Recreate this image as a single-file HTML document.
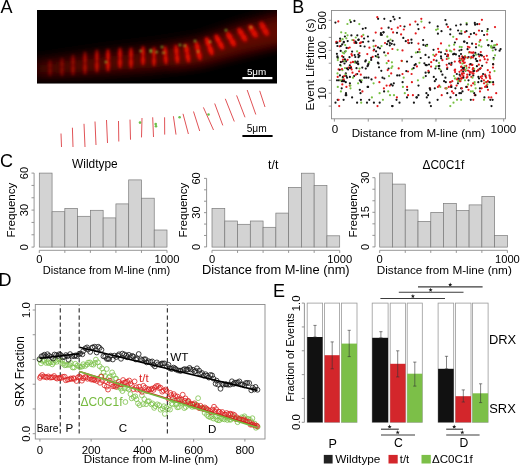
<!DOCTYPE html>
<html><head><meta charset="utf-8"><style>
html,body{margin:0;padding:0;background:#fff;width:520px;height:466px;overflow:hidden}
svg{display:block;font-family:"Liberation Sans", sans-serif;will-change:transform}
</style></head><body>
<svg width="520" height="466" viewBox="0 0 520 466">
<text x="0.60" y="12.70" font-size="18" text-anchor="start" fill="#000">A</text>
<text x="292.30" y="12.60" font-size="18" text-anchor="start" fill="#000">B</text>
<text x="0.00" y="166.50" font-size="18" text-anchor="start" fill="#000">C</text>
<text x="-1.40" y="286.20" font-size="18" text-anchor="start" fill="#000">D</text>
<text x="273.00" y="297.10" font-size="18" text-anchor="start" fill="#000">E</text>
<defs><filter id="bl2" x="-50%" y="-50%" width="200%" height="200%"><feGaussianBlur stdDeviation="2"/></filter><filter id="bl1" x="-50%" y="-50%" width="200%" height="200%"><feGaussianBlur stdDeviation="1.2"/></filter><filter id="bl15" filterUnits="userSpaceOnUse" x="30" y="0" width="260" height="90"><feGaussianBlur stdDeviation="1.7"/></filter><filter id="bl09" filterUnits="userSpaceOnUse" x="30" y="0" width="260" height="90"><feGaussianBlur stdDeviation="0.8"/></filter><filter id="bl3" filterUnits="userSpaceOnUse" x="30" y="0" width="260" height="90"><feGaussianBlur stdDeviation="3"/></filter><filter id="bl05" filterUnits="userSpaceOnUse" x="30" y="0" width="260" height="90"><feGaussianBlur stdDeviation="0.6"/></filter><filter id="bl6" filterUnits="userSpaceOnUse" x="0" y="0" width="300" height="100"><feGaussianBlur stdDeviation="6"/></filter><clipPath id="clipA"><rect x="37" y="10" width="240" height="73.5"/></clipPath></defs>
<rect x="37.00" y="10.00" width="240.00" height="73.50" fill="#000" stroke="none" stroke-width="1"/>
<g clip-path="url(#clipA)">
<path d="M20,62 L100,50 L150,44 L200,36 L240,22 L290,8 L290,44 L240,56 L200,66 L150,72 L100,76 L20,79 Z" fill="#2a0401" filter="url(#bl6)"/>
<path d="M40,64 L150,52 L200,45 L240,32 L290,18 L290,40 L240,50 L200,62 L150,68 L40,74 Z" fill="#6a0903" opacity="0.7" filter="url(#bl6)"/>
<path d="M170,48 L200,40 L240,26 L290,12 L290,42 L240,54 L200,64 L170,68 Z" fill="#700a04" opacity="0.45" filter="url(#bl6)"/>
<line x1="50" y1="61" x2="50" y2="75" stroke="#ee0800" stroke-width="3.00" stroke-linecap="round" opacity="0.27" filter="url(#bl15)"/>
<ellipse cx="50.0" cy="64.8" rx="1.80" ry="2.5" fill="#ff0a00" opacity="0.14" transform="rotate(-0.0 50.0 64.8)" filter="url(#bl15)"/>
<ellipse cx="50.0" cy="71.5" rx="1.80" ry="2.5" fill="#ff0a00" opacity="0.14" transform="rotate(-0.0 50.0 71.5)" filter="url(#bl15)"/>
<line x1="62" y1="59" x2="62" y2="75" stroke="#ee0800" stroke-width="3.00" stroke-linecap="round" opacity="0.32" filter="url(#bl15)"/>
<ellipse cx="62.0" cy="63.3" rx="1.80" ry="2.9" fill="#ff0a00" opacity="0.16" transform="rotate(-0.0 62.0 63.3)" filter="url(#bl15)"/>
<ellipse cx="62.0" cy="71.0" rx="1.80" ry="2.9" fill="#ff0a00" opacity="0.16" transform="rotate(-0.0 62.0 71.0)" filter="url(#bl15)"/>
<line x1="73" y1="56" x2="73" y2="74" stroke="#ee0800" stroke-width="3.00" stroke-linecap="round" opacity="0.41" filter="url(#bl15)"/>
<ellipse cx="73.0" cy="60.9" rx="1.80" ry="3.2" fill="#ff0a00" opacity="0.20" transform="rotate(-0.0 73.0 60.9)" filter="url(#bl15)"/>
<ellipse cx="73.0" cy="69.5" rx="1.80" ry="3.2" fill="#ff0a00" opacity="0.20" transform="rotate(-0.0 73.0 69.5)" filter="url(#bl15)"/>
<line x1="85" y1="53" x2="85" y2="73" stroke="#ee0800" stroke-width="3.00" stroke-linecap="round" opacity="0.50" filter="url(#bl15)"/>
<ellipse cx="85.0" cy="58.4" rx="1.80" ry="3.6" fill="#ff0a00" opacity="0.25" transform="rotate(-0.0 85.0 58.4)" filter="url(#bl15)"/>
<ellipse cx="85.0" cy="68.0" rx="1.80" ry="3.6" fill="#ff0a00" opacity="0.25" transform="rotate(-0.0 85.0 68.0)" filter="url(#bl15)"/>
<line x1="96.9" y1="51" x2="96.9" y2="71" stroke="#ee0800" stroke-width="3.00" stroke-linecap="round" opacity="0.63" filter="url(#bl15)"/>
<ellipse cx="96.9" cy="56.4" rx="1.80" ry="3.6" fill="#ff0a00" opacity="0.32" transform="rotate(-0.0 96.9 56.4)" filter="url(#bl15)"/>
<ellipse cx="96.9" cy="66.0" rx="1.80" ry="3.6" fill="#ff0a00" opacity="0.32" transform="rotate(-0.0 96.9 66.0)" filter="url(#bl15)"/>
<line x1="108" y1="50.5" x2="108" y2="70" stroke="#ee0800" stroke-width="3.00" stroke-linecap="round" opacity="0.81" filter="url(#bl15)"/>
<ellipse cx="108.0" cy="55.8" rx="1.80" ry="3.5" fill="#ff0a00" opacity="0.41" transform="rotate(-0.0 108.0 55.8)" filter="url(#bl15)"/>
<ellipse cx="108.0" cy="65.1" rx="1.80" ry="3.5" fill="#ff0a00" opacity="0.41" transform="rotate(-0.0 108.0 65.1)" filter="url(#bl15)"/>
<line x1="120" y1="49" x2="120" y2="67" stroke="#ee0800" stroke-width="3.00" stroke-linecap="round" opacity="0.77" filter="url(#bl15)"/>
<ellipse cx="120.0" cy="53.9" rx="1.80" ry="3.2" fill="#ff0a00" opacity="0.38" transform="rotate(-0.0 120.0 53.9)" filter="url(#bl15)"/>
<ellipse cx="120.0" cy="62.5" rx="1.80" ry="3.2" fill="#ff0a00" opacity="0.38" transform="rotate(-0.0 120.0 62.5)" filter="url(#bl15)"/>
<line x1="131" y1="49" x2="131" y2="67" stroke="#ee0800" stroke-width="3.00" stroke-linecap="round" opacity="0.77" filter="url(#bl15)"/>
<ellipse cx="131.0" cy="53.9" rx="1.80" ry="3.2" fill="#ff0a00" opacity="0.38" transform="rotate(-0.0 131.0 53.9)" filter="url(#bl15)"/>
<ellipse cx="131.0" cy="62.5" rx="1.80" ry="3.2" fill="#ff0a00" opacity="0.38" transform="rotate(-0.0 131.0 62.5)" filter="url(#bl15)"/>
<line x1="143" y1="47.5" x2="143" y2="64" stroke="#ee0800" stroke-width="3.00" stroke-linecap="round" opacity="0.81" filter="url(#bl15)"/>
<ellipse cx="143.0" cy="52.0" rx="1.80" ry="3.0" fill="#ff0a00" opacity="0.41" transform="rotate(-0.0 143.0 52.0)" filter="url(#bl15)"/>
<ellipse cx="143.0" cy="59.9" rx="1.80" ry="3.0" fill="#ff0a00" opacity="0.41" transform="rotate(-0.0 143.0 59.9)" filter="url(#bl15)"/>
<line x1="154" y1="48.5" x2="154" y2="65" stroke="#ee0800" stroke-width="3.00" stroke-linecap="round" opacity="0.77" filter="url(#bl15)"/>
<ellipse cx="154.0" cy="53.0" rx="1.80" ry="3.0" fill="#ff0a00" opacity="0.38" transform="rotate(-0.0 154.0 53.0)" filter="url(#bl15)"/>
<ellipse cx="154.0" cy="60.9" rx="1.80" ry="3.0" fill="#ff0a00" opacity="0.38" transform="rotate(-0.0 154.0 60.9)" filter="url(#bl15)"/>
<line x1="165" y1="47.5" x2="166" y2="63" stroke="#ee0800" stroke-width="3.22" stroke-linecap="round" opacity="0.81" filter="url(#bl15)"/>
<ellipse cx="165.3" cy="51.7" rx="1.93" ry="2.8" fill="#ff0a00" opacity="0.41" transform="rotate(-3.7 165.3 51.7)" filter="url(#bl15)"/>
<ellipse cx="165.8" cy="59.1" rx="1.93" ry="2.8" fill="#ff0a00" opacity="0.41" transform="rotate(-3.7 165.8 59.1)" filter="url(#bl15)"/>
<line x1="176" y1="46.5" x2="177.5" y2="62" stroke="#ee0800" stroke-width="3.44" stroke-linecap="round" opacity="0.81" filter="url(#bl15)"/>
<ellipse cx="176.4" cy="50.7" rx="2.06" ry="2.8" fill="#ff0a00" opacity="0.41" transform="rotate(-5.5 176.4 50.7)" filter="url(#bl15)"/>
<ellipse cx="177.1" cy="58.1" rx="2.06" ry="2.8" fill="#ff0a00" opacity="0.41" transform="rotate(-5.5 177.1 58.1)" filter="url(#bl15)"/>
<line x1="186" y1="45.5" x2="188.5" y2="61" stroke="#ee0800" stroke-width="3.66" stroke-linecap="round" opacity="0.85" filter="url(#bl15)"/>
<ellipse cx="186.7" cy="49.7" rx="2.20" ry="2.8" fill="#ff0a00" opacity="0.43" transform="rotate(-9.2 186.7 49.7)" filter="url(#bl15)"/>
<ellipse cx="187.9" cy="57.1" rx="2.20" ry="2.8" fill="#ff0a00" opacity="0.43" transform="rotate(-9.2 187.9 57.1)" filter="url(#bl15)"/>
<line x1="196.5" y1="43.5" x2="200" y2="58.5" stroke="#ee0800" stroke-width="3.88" stroke-linecap="round" opacity="0.85" filter="url(#bl15)"/>
<ellipse cx="197.4" cy="47.5" rx="2.33" ry="2.8" fill="#ff0a00" opacity="0.43" transform="rotate(-13.1 197.4 47.5)" filter="url(#bl15)"/>
<ellipse cx="199.1" cy="54.8" rx="2.33" ry="2.8" fill="#ff0a00" opacity="0.43" transform="rotate(-13.1 199.1 54.8)" filter="url(#bl15)"/>
<line x1="206.7" y1="39" x2="211.9" y2="53.5" stroke="#ee0800" stroke-width="4.10" stroke-linecap="round" opacity="0.90" filter="url(#bl15)"/>
<ellipse cx="208.1" cy="42.9" rx="2.46" ry="2.8" fill="#ff0a00" opacity="0.45" transform="rotate(-19.7 208.1 42.9)" filter="url(#bl15)"/>
<ellipse cx="210.6" cy="49.9" rx="2.46" ry="2.8" fill="#ff0a00" opacity="0.45" transform="rotate(-19.7 210.6 49.9)" filter="url(#bl15)"/>
<line x1="216.3" y1="36.5" x2="222.2" y2="47.5" stroke="#ee0800" stroke-width="4.32" stroke-linecap="round" opacity="0.90" filter="url(#bl15)"/>
<ellipse cx="217.9" cy="39.5" rx="2.59" ry="2.2" fill="#ff0a00" opacity="0.45" transform="rotate(-28.2 217.9 39.5)" filter="url(#bl15)"/>
<ellipse cx="220.7" cy="44.8" rx="2.59" ry="2.2" fill="#ff0a00" opacity="0.45" transform="rotate(-28.2 220.7 44.8)" filter="url(#bl15)"/>
<line x1="228" y1="34" x2="234" y2="44.5" stroke="#ee0800" stroke-width="4.54" stroke-linecap="round" opacity="0.85" filter="url(#bl15)"/>
<ellipse cx="229.6" cy="36.8" rx="2.72" ry="2.2" fill="#ff0a00" opacity="0.43" transform="rotate(-29.7 229.6 36.8)" filter="url(#bl15)"/>
<ellipse cx="232.5" cy="41.9" rx="2.72" ry="2.2" fill="#ff0a00" opacity="0.43" transform="rotate(-29.7 232.5 41.9)" filter="url(#bl15)"/>
<line x1="239.3" y1="30" x2="245.2" y2="39.5" stroke="#ee0800" stroke-width="4.76" stroke-linecap="round" opacity="0.81" filter="url(#bl15)"/>
<ellipse cx="240.9" cy="32.6" rx="2.86" ry="2.0" fill="#ff0a00" opacity="0.41" transform="rotate(-31.8 240.9 32.6)" filter="url(#bl15)"/>
<ellipse cx="243.7" cy="37.1" rx="2.86" ry="2.0" fill="#ff0a00" opacity="0.41" transform="rotate(-31.8 243.7 37.1)" filter="url(#bl15)"/>
<line x1="250.4" y1="27" x2="255.6" y2="35.5" stroke="#ee0800" stroke-width="4.98" stroke-linecap="round" opacity="0.81" filter="url(#bl15)"/>
<ellipse cx="251.8" cy="29.3" rx="2.99" ry="1.8" fill="#ff0a00" opacity="0.41" transform="rotate(-31.5 251.8 29.3)" filter="url(#bl15)"/>
<ellipse cx="254.3" cy="33.4" rx="2.99" ry="1.8" fill="#ff0a00" opacity="0.41" transform="rotate(-31.5 254.3 33.4)" filter="url(#bl15)"/>
<line x1="261.5" y1="24" x2="266.7" y2="33.5" stroke="#ee0800" stroke-width="5.20" stroke-linecap="round" opacity="0.77" filter="url(#bl15)"/>
<ellipse cx="262.9" cy="26.6" rx="3.12" ry="1.9" fill="#ff0a00" opacity="0.38" transform="rotate(-28.7 262.9 26.6)" filter="url(#bl15)"/>
<ellipse cx="265.4" cy="31.1" rx="3.12" ry="1.9" fill="#ff0a00" opacity="0.38" transform="rotate(-28.7 265.4 31.1)" filter="url(#bl15)"/>
<circle cx="140.8" cy="51" r="1.3" fill="#90f040" opacity="0.65" filter="url(#bl09)"/>
<circle cx="151" cy="51.5" r="1.3" fill="#90f040" opacity="0.65" filter="url(#bl09)"/>
<circle cx="106" cy="62" r="1.3" fill="#90f040" opacity="0.65" filter="url(#bl09)"/>
<circle cx="162" cy="47" r="1.3" fill="#90f040" opacity="0.65" filter="url(#bl09)"/>
<circle cx="163.5" cy="52.7" r="1.3" fill="#90f040" opacity="0.65" filter="url(#bl09)"/>
<circle cx="195" cy="41" r="1.3" fill="#90f040" opacity="0.65" filter="url(#bl09)"/>
<circle cx="198" cy="51.5" r="1.3" fill="#90f040" opacity="0.65" filter="url(#bl09)"/>
<circle cx="210" cy="41.8" r="1.3" fill="#90f040" opacity="0.65" filter="url(#bl09)"/>
<circle cx="226" cy="30.3" r="1.3" fill="#90f040" opacity="0.65" filter="url(#bl09)"/>
<circle cx="251" cy="27.3" r="1.3" fill="#90f040" opacity="0.65" filter="url(#bl09)"/>
<circle cx="184.7" cy="45.8" r="1.3" fill="#90f040" opacity="0.65" filter="url(#bl09)"/>
<circle cx="180" cy="45" r="1.3" fill="#90f040" opacity="0.65" filter="url(#bl09)"/>
<circle cx="156.5" cy="52" r="1.3" fill="#90f040" opacity="0.65" filter="url(#bl09)"/>
<circle cx="150.8" cy="50.4" r="1.3" fill="#90f040" opacity="0.65" filter="url(#bl09)"/>
</g>
<text x="256.60" y="74.90" font-size="9.9" text-anchor="middle" fill="#fff">5μm</text>
<rect x="242.40" y="77.00" width="30.00" height="2.20" fill="#fff" stroke="none" stroke-width="1"/>
<line x1="61.00" y1="133.50" x2="61.50" y2="147.00" stroke="#e05256" stroke-width="1"/>
<line x1="72.40" y1="127.70" x2="73.00" y2="147.00" stroke="#e05256" stroke-width="1"/>
<line x1="84.00" y1="123.80" x2="85.00" y2="147.00" stroke="#e05256" stroke-width="1"/>
<line x1="95.00" y1="121.50" x2="96.00" y2="145.00" stroke="#e05256" stroke-width="1"/>
<line x1="106.50" y1="120.00" x2="107.50" y2="143.00" stroke="#e05256" stroke-width="1"/>
<line x1="118.50" y1="121.00" x2="118.80" y2="141.50" stroke="#e05256" stroke-width="1"/>
<line x1="130.00" y1="119.60" x2="130.50" y2="139.70" stroke="#e05256" stroke-width="1"/>
<line x1="142.00" y1="118.00" x2="141.50" y2="137.40" stroke="#e05256" stroke-width="1"/>
<line x1="152.70" y1="117.30" x2="153.50" y2="137.00" stroke="#e05256" stroke-width="1"/>
<line x1="164.60" y1="117.30" x2="164.70" y2="134.60" stroke="#e05256" stroke-width="1"/>
<line x1="173.40" y1="116.20" x2="176.00" y2="134.60" stroke="#e05256" stroke-width="1"/>
<line x1="183.00" y1="113.80" x2="188.40" y2="134.00" stroke="#e05256" stroke-width="1"/>
<line x1="193.50" y1="111.50" x2="199.70" y2="131.00" stroke="#e05256" stroke-width="1"/>
<line x1="203.40" y1="107.40" x2="213.50" y2="130.00" stroke="#e05256" stroke-width="1"/>
<line x1="214.70" y1="103.50" x2="222.80" y2="125.40" stroke="#e05256" stroke-width="1"/>
<line x1="225.30" y1="98.80" x2="234.30" y2="121.50" stroke="#e05256" stroke-width="1"/>
<line x1="236.60" y1="95.40" x2="245.00" y2="117.30" stroke="#e05256" stroke-width="1"/>
<line x1="247.20" y1="90.00" x2="255.80" y2="114.50" stroke="#e05256" stroke-width="1"/>
<line x1="259.70" y1="90.80" x2="265.00" y2="107.00" stroke="#e05256" stroke-width="1"/>
<circle cx="140" cy="122.6" r="1.3" fill="#6cc04a"/>
<circle cx="155.7" cy="124" r="1.3" fill="#6cc04a"/>
<circle cx="156" cy="126.3" r="1.3" fill="#6cc04a"/>
<circle cx="179.6" cy="117.3" r="1.3" fill="#6cc04a"/>
<circle cx="208.5" cy="114.5" r="1.3" fill="#6cc04a"/>
<text x="256.70" y="132.30" font-size="10.2" text-anchor="middle" fill="#000">5μm</text>
<rect x="242.40" y="135.00" width="30.20" height="2.00" fill="#000" stroke="none" stroke-width="1"/>
<rect x="331.50" y="10.50" width="174.00" height="108.30" fill="none" stroke="#8a8a8a" stroke-width="0.9"/>
<line x1="334.40" y1="118.80" x2="334.40" y2="121.60" stroke="#8a8a8a" stroke-width="0.9"/>
<line x1="368.26" y1="118.80" x2="368.26" y2="121.60" stroke="#8a8a8a" stroke-width="0.9"/>
<line x1="402.12" y1="118.80" x2="402.12" y2="121.60" stroke="#8a8a8a" stroke-width="0.9"/>
<line x1="435.98" y1="118.80" x2="435.98" y2="121.60" stroke="#8a8a8a" stroke-width="0.9"/>
<line x1="469.84" y1="118.80" x2="469.84" y2="121.60" stroke="#8a8a8a" stroke-width="0.9"/>
<line x1="503.70" y1="118.80" x2="503.70" y2="121.60" stroke="#8a8a8a" stroke-width="0.9"/>
<line x1="328.70" y1="106.11" x2="331.50" y2="106.11" stroke="#8a8a8a" stroke-width="0.9"/>
<line x1="328.70" y1="93.20" x2="331.50" y2="93.20" stroke="#8a8a8a" stroke-width="0.9"/>
<line x1="328.70" y1="80.29" x2="331.50" y2="80.29" stroke="#8a8a8a" stroke-width="0.9"/>
<line x1="328.70" y1="63.21" x2="331.50" y2="63.21" stroke="#8a8a8a" stroke-width="0.9"/>
<line x1="328.70" y1="50.30" x2="331.50" y2="50.30" stroke="#8a8a8a" stroke-width="0.9"/>
<line x1="328.70" y1="37.39" x2="331.50" y2="37.39" stroke="#8a8a8a" stroke-width="0.9"/>
<line x1="328.70" y1="20.31" x2="331.50" y2="20.31" stroke="#8a8a8a" stroke-width="0.9"/>
<text x="326.20" y="93.20" font-size="11.2" text-anchor="middle" fill="#000" transform="rotate(-90 326.2 93.2)">10</text>
<text x="326.20" y="50.30" font-size="11.2" text-anchor="middle" fill="#000" transform="rotate(-90 326.2 50.300000000000004)">100</text>
<text x="326.20" y="20.31" font-size="11.2" text-anchor="middle" fill="#000" transform="rotate(-90 326.2 20.314186813984804)">500</text>
<text x="335.00" y="132.60" font-size="11.6" text-anchor="middle" fill="#000">0</text>
<text x="503.40" y="132.60" font-size="11.6" text-anchor="middle" fill="#000">1000</text>
<text x="418.40" y="137.20" font-size="11.6" text-anchor="middle" fill="#000">Distance from M-line (nm)</text>
<text x="314.00" y="64.50" font-size="11.8" text-anchor="middle" fill="#000" transform="rotate(-90 314.0 64.5)">Event Lifetime (s)</text>
<circle cx="469.5" cy="47.3" r="1.1" fill="#e3191c"/>
<circle cx="491.0" cy="46.7" r="1.1" fill="#78c043"/>
<circle cx="476.9" cy="66.2" r="1.1" fill="#151515"/>
<circle cx="490.3" cy="99.8" r="1.1" fill="#151515"/>
<circle cx="349.5" cy="57.2" r="1.1" fill="#151515"/>
<circle cx="371.9" cy="97.4" r="1.1" fill="#78c043"/>
<circle cx="449.9" cy="50.6" r="1.1" fill="#78c043"/>
<circle cx="411.6" cy="74.0" r="1.1" fill="#e3191c"/>
<circle cx="460.3" cy="62.7" r="1.1" fill="#e3191c"/>
<circle cx="342.4" cy="70.2" r="1.1" fill="#78c043"/>
<circle cx="397.2" cy="75.4" r="1.1" fill="#151515"/>
<circle cx="485.6" cy="82.2" r="1.1" fill="#78c043"/>
<circle cx="469.4" cy="71.3" r="1.1" fill="#e3191c"/>
<circle cx="347.6" cy="59.8" r="1.1" fill="#e3191c"/>
<circle cx="453.4" cy="93.2" r="1.1" fill="#e3191c"/>
<circle cx="464.5" cy="41.7" r="1.1" fill="#151515"/>
<circle cx="391.6" cy="29.1" r="1.1" fill="#e3191c"/>
<circle cx="456.6" cy="85.6" r="1.1" fill="#e3191c"/>
<circle cx="338.9" cy="80.3" r="1.1" fill="#151515"/>
<circle cx="378.1" cy="18.8" r="1.1" fill="#151515"/>
<circle cx="367.0" cy="102.7" r="1.1" fill="#151515"/>
<circle cx="465.6" cy="70.6" r="1.1" fill="#151515"/>
<circle cx="338.6" cy="69.4" r="1.1" fill="#e3191c"/>
<circle cx="337.5" cy="73.4" r="1.1" fill="#78c043"/>
<circle cx="466.6" cy="23.1" r="1.1" fill="#78c043"/>
<circle cx="462.2" cy="56.4" r="1.1" fill="#e3191c"/>
<circle cx="363.3" cy="34.9" r="1.1" fill="#78c043"/>
<circle cx="441.7" cy="95.2" r="1.1" fill="#e3191c"/>
<circle cx="458.1" cy="30.5" r="1.1" fill="#151515"/>
<circle cx="475.3" cy="52.9" r="1.1" fill="#151515"/>
<circle cx="461.1" cy="88.3" r="1.1" fill="#151515"/>
<circle cx="342.7" cy="77.7" r="1.1" fill="#78c043"/>
<circle cx="342.2" cy="44.4" r="1.1" fill="#151515"/>
<circle cx="355.2" cy="61.5" r="1.1" fill="#151515"/>
<circle cx="379.0" cy="67.3" r="1.1" fill="#151515"/>
<circle cx="346.4" cy="86.9" r="1.1" fill="#e3191c"/>
<circle cx="469.2" cy="36.9" r="1.1" fill="#e3191c"/>
<circle cx="456.6" cy="39.2" r="1.1" fill="#e3191c"/>
<circle cx="447.3" cy="67.7" r="1.1" fill="#e3191c"/>
<circle cx="471.4" cy="76.9" r="1.1" fill="#e3191c"/>
<circle cx="344.9" cy="36.5" r="1.1" fill="#151515"/>
<circle cx="452.3" cy="81.2" r="1.1" fill="#e3191c"/>
<circle cx="454.1" cy="44.7" r="1.1" fill="#78c043"/>
<circle cx="489.4" cy="75.4" r="1.1" fill="#e3191c"/>
<circle cx="423.4" cy="44.9" r="1.1" fill="#151515"/>
<circle cx="492.8" cy="47.6" r="1.1" fill="#151515"/>
<circle cx="434.8" cy="88.3" r="1.1" fill="#151515"/>
<circle cx="339.6" cy="46.3" r="1.1" fill="#e3191c"/>
<circle cx="466.7" cy="77.7" r="1.1" fill="#e3191c"/>
<circle cx="445.8" cy="82.2" r="1.1" fill="#151515"/>
<circle cx="467.6" cy="49.2" r="1.1" fill="#151515"/>
<circle cx="493.1" cy="82.2" r="1.1" fill="#151515"/>
<circle cx="350.9" cy="66.8" r="1.1" fill="#e3191c"/>
<circle cx="469.7" cy="64.6" r="1.1" fill="#e3191c"/>
<circle cx="469.2" cy="67.6" r="1.1" fill="#e3191c"/>
<circle cx="479.5" cy="41.8" r="1.1" fill="#78c043"/>
<circle cx="454.8" cy="61.6" r="1.1" fill="#e3191c"/>
<circle cx="367.6" cy="86.9" r="1.1" fill="#151515"/>
<circle cx="349.9" cy="20.2" r="1.1" fill="#78c043"/>
<circle cx="439.0" cy="68.5" r="1.1" fill="#151515"/>
<circle cx="488.4" cy="45.2" r="1.1" fill="#151515"/>
<circle cx="389.8" cy="85.6" r="1.1" fill="#e3191c"/>
<circle cx="348.1" cy="69.5" r="1.1" fill="#151515"/>
<circle cx="438.1" cy="48.8" r="1.1" fill="#e3191c"/>
<circle cx="489.8" cy="76.9" r="1.1" fill="#e3191c"/>
<circle cx="427.1" cy="44.9" r="1.1" fill="#151515"/>
<circle cx="417.8" cy="52.1" r="1.1" fill="#151515"/>
<circle cx="483.1" cy="74.0" r="1.1" fill="#151515"/>
<circle cx="487.1" cy="86.9" r="1.1" fill="#151515"/>
<circle cx="471.0" cy="64.5" r="1.1" fill="#e3191c"/>
<circle cx="463.4" cy="76.1" r="1.1" fill="#e3191c"/>
<circle cx="377.5" cy="106.1" r="1.1" fill="#e3191c"/>
<circle cx="345.6" cy="33.0" r="1.1" fill="#78c043"/>
<circle cx="462.1" cy="77.7" r="1.1" fill="#e3191c"/>
<circle cx="474.1" cy="33.2" r="1.1" fill="#151515"/>
<circle cx="411.6" cy="42.8" r="1.1" fill="#151515"/>
<circle cx="462.9" cy="58.4" r="1.1" fill="#e3191c"/>
<circle cx="429.0" cy="64.5" r="1.1" fill="#151515"/>
<circle cx="383.5" cy="32.3" r="1.1" fill="#151515"/>
<circle cx="440.3" cy="86.9" r="1.1" fill="#78c043"/>
<circle cx="352.1" cy="51.6" r="1.1" fill="#151515"/>
<circle cx="473.3" cy="75.4" r="1.1" fill="#151515"/>
<circle cx="454.6" cy="70.3" r="1.1" fill="#e3191c"/>
<circle cx="364.1" cy="38.5" r="1.1" fill="#151515"/>
<circle cx="464.0" cy="67.9" r="1.1" fill="#151515"/>
<circle cx="362.4" cy="91.4" r="1.1" fill="#e3191c"/>
<circle cx="426.8" cy="97.4" r="1.1" fill="#151515"/>
<circle cx="336.9" cy="53.8" r="1.1" fill="#151515"/>
<circle cx="424.4" cy="63.3" r="1.1" fill="#151515"/>
<circle cx="345.0" cy="68.0" r="1.1" fill="#78c043"/>
<circle cx="362.8" cy="28.8" r="1.1" fill="#151515"/>
<circle cx="460.4" cy="81.2" r="1.1" fill="#e3191c"/>
<circle cx="360.8" cy="74.7" r="1.1" fill="#e3191c"/>
<circle cx="454.4" cy="53.8" r="1.1" fill="#151515"/>
<circle cx="368.4" cy="63.9" r="1.1" fill="#151515"/>
<circle cx="408.1" cy="95.2" r="1.1" fill="#e3191c"/>
<circle cx="476.0" cy="44.1" r="1.1" fill="#e3191c"/>
<circle cx="494.2" cy="47.5" r="1.1" fill="#151515"/>
<circle cx="388.6" cy="40.9" r="1.1" fill="#151515"/>
<circle cx="385.7" cy="55.5" r="1.1" fill="#78c043"/>
<circle cx="367.9" cy="36.5" r="1.1" fill="#151515"/>
<circle cx="356.1" cy="42.8" r="1.1" fill="#151515"/>
<circle cx="454.0" cy="53.9" r="1.1" fill="#151515"/>
<circle cx="481.9" cy="78.5" r="1.1" fill="#e3191c"/>
<circle cx="382.9" cy="99.8" r="1.1" fill="#78c043"/>
<circle cx="459.1" cy="80.3" r="1.1" fill="#151515"/>
<circle cx="470.8" cy="58.3" r="1.1" fill="#78c043"/>
<circle cx="428.7" cy="72.3" r="1.1" fill="#151515"/>
<circle cx="345.8" cy="82.2" r="1.1" fill="#151515"/>
<circle cx="491.5" cy="106.1" r="1.1" fill="#151515"/>
<circle cx="337.0" cy="80.3" r="1.1" fill="#151515"/>
<circle cx="366.2" cy="77.7" r="1.1" fill="#151515"/>
<circle cx="398.7" cy="68.4" r="1.1" fill="#e3191c"/>
<circle cx="402.9" cy="86.9" r="1.1" fill="#78c043"/>
<circle cx="451.3" cy="64.7" r="1.1" fill="#151515"/>
<circle cx="379.6" cy="93.2" r="1.1" fill="#78c043"/>
<circle cx="455.4" cy="88.3" r="1.1" fill="#151515"/>
<circle cx="457.7" cy="78.5" r="1.1" fill="#e3191c"/>
<circle cx="369.2" cy="62.2" r="1.1" fill="#78c043"/>
<circle cx="459.4" cy="93.2" r="1.1" fill="#151515"/>
<circle cx="493.2" cy="64.4" r="1.1" fill="#e3191c"/>
<circle cx="485.1" cy="86.9" r="1.1" fill="#e3191c"/>
<circle cx="478.2" cy="70.3" r="1.1" fill="#151515"/>
<circle cx="469.6" cy="74.7" r="1.1" fill="#151515"/>
<circle cx="347.4" cy="24.0" r="1.1" fill="#78c043"/>
<circle cx="358.2" cy="64.2" r="1.1" fill="#151515"/>
<circle cx="373.9" cy="102.7" r="1.1" fill="#151515"/>
<circle cx="421.4" cy="21.6" r="1.1" fill="#78c043"/>
<circle cx="356.5" cy="68.2" r="1.1" fill="#151515"/>
<circle cx="425.7" cy="45.7" r="1.1" fill="#151515"/>
<circle cx="368.4" cy="77.7" r="1.1" fill="#151515"/>
<circle cx="465.0" cy="32.1" r="1.1" fill="#e3191c"/>
<circle cx="493.6" cy="58.1" r="1.1" fill="#151515"/>
<circle cx="472.4" cy="73.4" r="1.1" fill="#e3191c"/>
<circle cx="341.0" cy="61.8" r="1.1" fill="#e3191c"/>
<circle cx="437.7" cy="26.4" r="1.1" fill="#151515"/>
<circle cx="353.2" cy="62.0" r="1.1" fill="#151515"/>
<circle cx="438.9" cy="51.9" r="1.1" fill="#e3191c"/>
<circle cx="391.2" cy="73.4" r="1.1" fill="#e3191c"/>
<circle cx="383.9" cy="88.3" r="1.1" fill="#e3191c"/>
<circle cx="466.5" cy="31.2" r="1.1" fill="#151515"/>
<circle cx="373.6" cy="46.3" r="1.1" fill="#78c043"/>
<circle cx="388.6" cy="27.7" r="1.1" fill="#151515"/>
<circle cx="467.5" cy="58.0" r="1.1" fill="#78c043"/>
<circle cx="491.3" cy="97.4" r="1.1" fill="#e3191c"/>
<circle cx="450.0" cy="50.8" r="1.1" fill="#78c043"/>
<circle cx="471.2" cy="52.7" r="1.1" fill="#e3191c"/>
<circle cx="403.3" cy="37.9" r="1.1" fill="#151515"/>
<circle cx="425.5" cy="54.9" r="1.1" fill="#151515"/>
<circle cx="365.3" cy="61.4" r="1.1" fill="#151515"/>
<circle cx="377.1" cy="56.8" r="1.1" fill="#78c043"/>
<circle cx="340.7" cy="50.9" r="1.1" fill="#151515"/>
<circle cx="474.6" cy="82.2" r="1.1" fill="#78c043"/>
<circle cx="415.7" cy="64.2" r="1.1" fill="#151515"/>
<circle cx="411.9" cy="82.2" r="1.1" fill="#e3191c"/>
<circle cx="433.5" cy="49.8" r="1.1" fill="#151515"/>
<circle cx="446.7" cy="64.8" r="1.1" fill="#e3191c"/>
<circle cx="344.1" cy="53.3" r="1.1" fill="#78c043"/>
<circle cx="461.7" cy="47.1" r="1.1" fill="#78c043"/>
<circle cx="480.6" cy="55.0" r="1.1" fill="#151515"/>
<circle cx="388.6" cy="68.6" r="1.1" fill="#151515"/>
<circle cx="461.4" cy="49.8" r="1.1" fill="#151515"/>
<circle cx="485.6" cy="76.1" r="1.1" fill="#151515"/>
<circle cx="372.7" cy="56.8" r="1.1" fill="#e3191c"/>
<circle cx="461.3" cy="31.1" r="1.1" fill="#78c043"/>
<circle cx="487.2" cy="31.2" r="1.1" fill="#78c043"/>
<circle cx="416.9" cy="97.4" r="1.1" fill="#151515"/>
<circle cx="479.3" cy="56.3" r="1.1" fill="#e3191c"/>
<circle cx="392.7" cy="85.6" r="1.1" fill="#151515"/>
<circle cx="340.8" cy="65.7" r="1.1" fill="#78c043"/>
<circle cx="468.6" cy="57.1" r="1.1" fill="#151515"/>
<circle cx="340.8" cy="46.1" r="1.1" fill="#151515"/>
<circle cx="343.6" cy="99.8" r="1.1" fill="#151515"/>
<circle cx="487.7" cy="59.7" r="1.1" fill="#e3191c"/>
<circle cx="475.8" cy="58.9" r="1.1" fill="#151515"/>
<circle cx="412.1" cy="69.2" r="1.1" fill="#78c043"/>
<circle cx="340.9" cy="91.4" r="1.1" fill="#78c043"/>
<circle cx="493.7" cy="59.3" r="1.1" fill="#78c043"/>
<circle cx="459.2" cy="56.1" r="1.1" fill="#151515"/>
<circle cx="365.6" cy="28.1" r="1.1" fill="#151515"/>
<circle cx="488.3" cy="45.3" r="1.1" fill="#151515"/>
<circle cx="462.2" cy="74.7" r="1.1" fill="#e3191c"/>
<circle cx="464.4" cy="58.5" r="1.1" fill="#151515"/>
<circle cx="399.4" cy="75.4" r="1.1" fill="#151515"/>
<circle cx="392.6" cy="106.1" r="1.1" fill="#151515"/>
<circle cx="429.6" cy="22.6" r="1.1" fill="#151515"/>
<circle cx="397.6" cy="49.8" r="1.1" fill="#78c043"/>
<circle cx="411.4" cy="39.7" r="1.1" fill="#151515"/>
<circle cx="484.4" cy="97.4" r="1.1" fill="#151515"/>
<circle cx="476.6" cy="61.0" r="1.1" fill="#151515"/>
<circle cx="439.3" cy="65.9" r="1.1" fill="#151515"/>
<circle cx="344.9" cy="59.4" r="1.1" fill="#151515"/>
<circle cx="341.9" cy="81.2" r="1.1" fill="#151515"/>
<circle cx="423.4" cy="77.7" r="1.1" fill="#78c043"/>
<circle cx="467.1" cy="86.9" r="1.1" fill="#e3191c"/>
<circle cx="347.5" cy="35.3" r="1.1" fill="#78c043"/>
<circle cx="477.2" cy="24.2" r="1.1" fill="#151515"/>
<circle cx="373.5" cy="40.7" r="1.1" fill="#151515"/>
<circle cx="466.3" cy="65.9" r="1.1" fill="#e3191c"/>
<circle cx="450.5" cy="97.4" r="1.1" fill="#151515"/>
<circle cx="359.4" cy="53.0" r="1.1" fill="#e3191c"/>
<circle cx="342.3" cy="80.3" r="1.1" fill="#151515"/>
<circle cx="481.9" cy="19.8" r="1.1" fill="#e3191c"/>
<circle cx="455.1" cy="72.1" r="1.1" fill="#e3191c"/>
<circle cx="392.6" cy="40.8" r="1.1" fill="#151515"/>
<circle cx="446.4" cy="49.8" r="1.1" fill="#78c043"/>
<circle cx="455.1" cy="69.7" r="1.1" fill="#e3191c"/>
<circle cx="453.2" cy="36.8" r="1.1" fill="#78c043"/>
<circle cx="447.9" cy="26.9" r="1.1" fill="#e3191c"/>
<circle cx="472.5" cy="77.7" r="1.1" fill="#78c043"/>
<circle cx="495.0" cy="55.3" r="1.1" fill="#78c043"/>
<circle cx="387.7" cy="70.1" r="1.1" fill="#e3191c"/>
<circle cx="468.9" cy="52.6" r="1.1" fill="#78c043"/>
<circle cx="441.0" cy="56.4" r="1.1" fill="#151515"/>
<circle cx="472.1" cy="43.7" r="1.1" fill="#151515"/>
<circle cx="486.6" cy="62.5" r="1.1" fill="#e3191c"/>
<circle cx="478.4" cy="76.9" r="1.1" fill="#151515"/>
<circle cx="407.1" cy="86.9" r="1.1" fill="#e3191c"/>
<circle cx="360.7" cy="81.2" r="1.1" fill="#151515"/>
<circle cx="489.9" cy="72.4" r="1.1" fill="#e3191c"/>
<circle cx="463.4" cy="77.7" r="1.1" fill="#151515"/>
<circle cx="476.2" cy="34.5" r="1.1" fill="#e3191c"/>
<circle cx="468.5" cy="80.3" r="1.1" fill="#151515"/>
<circle cx="472.4" cy="64.8" r="1.1" fill="#e3191c"/>
<circle cx="441.0" cy="43.4" r="1.1" fill="#e3191c"/>
<circle cx="385.0" cy="43.0" r="1.1" fill="#e3191c"/>
<circle cx="451.0" cy="86.9" r="1.1" fill="#e3191c"/>
<circle cx="393.8" cy="83.3" r="1.1" fill="#151515"/>
<circle cx="349.9" cy="83.3" r="1.1" fill="#151515"/>
<circle cx="492.6" cy="99.8" r="1.1" fill="#151515"/>
<circle cx="493.3" cy="84.4" r="1.1" fill="#e3191c"/>
<circle cx="484.1" cy="35.0" r="1.1" fill="#151515"/>
<circle cx="450.4" cy="82.2" r="1.1" fill="#151515"/>
<circle cx="352.3" cy="40.0" r="1.1" fill="#78c043"/>
<circle cx="465.8" cy="70.4" r="1.1" fill="#78c043"/>
<circle cx="349.8" cy="85.6" r="1.1" fill="#e3191c"/>
<circle cx="387.3" cy="36.7" r="1.1" fill="#78c043"/>
<circle cx="436.1" cy="66.4" r="1.1" fill="#78c043"/>
<circle cx="343.0" cy="59.7" r="1.1" fill="#e3191c"/>
<circle cx="473.4" cy="52.4" r="1.1" fill="#e3191c"/>
<circle cx="491.9" cy="41.2" r="1.1" fill="#151515"/>
<circle cx="470.9" cy="91.4" r="1.1" fill="#78c043"/>
<circle cx="460.5" cy="80.3" r="1.1" fill="#78c043"/>
<circle cx="361.2" cy="102.7" r="1.1" fill="#78c043"/>
<circle cx="337.7" cy="99.8" r="1.1" fill="#151515"/>
<circle cx="482.0" cy="31.0" r="1.1" fill="#151515"/>
<circle cx="361.7" cy="80.3" r="1.1" fill="#78c043"/>
<circle cx="403.8" cy="29.5" r="1.1" fill="#e3191c"/>
<circle cx="467.9" cy="46.8" r="1.1" fill="#e3191c"/>
<circle cx="490.2" cy="78.5" r="1.1" fill="#e3191c"/>
<circle cx="451.0" cy="85.6" r="1.1" fill="#e3191c"/>
<circle cx="408.9" cy="43.1" r="1.1" fill="#151515"/>
<circle cx="461.5" cy="70.5" r="1.1" fill="#e3191c"/>
<circle cx="357.1" cy="102.7" r="1.1" fill="#151515"/>
<circle cx="500.6" cy="49.1" r="1.1" fill="#151515"/>
<circle cx="386.6" cy="85.6" r="1.1" fill="#e3191c"/>
<circle cx="418.5" cy="85.6" r="1.1" fill="#151515"/>
<circle cx="472.0" cy="64.9" r="1.1" fill="#e3191c"/>
<circle cx="431.1" cy="66.6" r="1.1" fill="#e3191c"/>
<circle cx="499.6" cy="50.7" r="1.1" fill="#151515"/>
<circle cx="493.1" cy="64.2" r="1.1" fill="#151515"/>
<circle cx="344.9" cy="59.8" r="1.1" fill="#151515"/>
<circle cx="447.1" cy="69.0" r="1.1" fill="#151515"/>
<circle cx="345.2" cy="45.1" r="1.1" fill="#78c043"/>
<circle cx="461.1" cy="66.8" r="1.1" fill="#e3191c"/>
<circle cx="447.1" cy="56.3" r="1.1" fill="#151515"/>
<circle cx="342.1" cy="56.2" r="1.1" fill="#e3191c"/>
<circle cx="486.6" cy="82.2" r="1.1" fill="#e3191c"/>
<circle cx="371.2" cy="59.9" r="1.1" fill="#151515"/>
<circle cx="355.8" cy="37.5" r="1.1" fill="#78c043"/>
<circle cx="355.3" cy="57.0" r="1.1" fill="#151515"/>
<circle cx="418.4" cy="95.2" r="1.1" fill="#151515"/>
<circle cx="350.4" cy="85.6" r="1.1" fill="#78c043"/>
<circle cx="402.5" cy="50.4" r="1.1" fill="#e3191c"/>
<circle cx="365.8" cy="60.4" r="1.1" fill="#151515"/>
<circle cx="350.8" cy="62.6" r="1.1" fill="#e3191c"/>
<circle cx="450.8" cy="64.6" r="1.1" fill="#e3191c"/>
<circle cx="480.1" cy="60.4" r="1.1" fill="#e3191c"/>
<circle cx="378.0" cy="47.4" r="1.1" fill="#151515"/>
<circle cx="351.5" cy="54.2" r="1.1" fill="#e3191c"/>
<circle cx="454.0" cy="76.1" r="1.1" fill="#78c043"/>
<circle cx="472.8" cy="52.8" r="1.1" fill="#e3191c"/>
<circle cx="354.6" cy="62.4" r="1.1" fill="#78c043"/>
<circle cx="360.5" cy="93.2" r="1.1" fill="#151515"/>
<circle cx="412.9" cy="95.2" r="1.1" fill="#e3191c"/>
<circle cx="343.0" cy="81.2" r="1.1" fill="#151515"/>
<circle cx="448.1" cy="55.1" r="1.1" fill="#151515"/>
<circle cx="345.8" cy="73.4" r="1.1" fill="#151515"/>
<circle cx="461.6" cy="78.5" r="1.1" fill="#e3191c"/>
<circle cx="484.0" cy="99.8" r="1.1" fill="#78c043"/>
<circle cx="495.0" cy="27.1" r="1.1" fill="#e3191c"/>
<circle cx="479.0" cy="45.4" r="1.1" fill="#78c043"/>
<circle cx="451.3" cy="85.6" r="1.1" fill="#e3191c"/>
<circle cx="441.1" cy="71.4" r="1.1" fill="#151515"/>
<circle cx="446.6" cy="24.4" r="1.1" fill="#151515"/>
<circle cx="386.7" cy="63.2" r="1.1" fill="#78c043"/>
<circle cx="480.8" cy="76.9" r="1.1" fill="#e3191c"/>
<circle cx="470.6" cy="64.0" r="1.1" fill="#151515"/>
<circle cx="417.7" cy="24.5" r="1.1" fill="#151515"/>
<circle cx="413.9" cy="102.7" r="1.1" fill="#151515"/>
<circle cx="339.8" cy="69.8" r="1.1" fill="#151515"/>
<circle cx="460.3" cy="76.1" r="1.1" fill="#e3191c"/>
<circle cx="449.2" cy="45.7" r="1.1" fill="#78c043"/>
<circle cx="342.3" cy="84.4" r="1.1" fill="#e3191c"/>
<circle cx="478.8" cy="64.7" r="1.1" fill="#e3191c"/>
<circle cx="352.5" cy="72.7" r="1.1" fill="#e3191c"/>
<circle cx="381.3" cy="70.8" r="1.1" fill="#151515"/>
<circle cx="356.4" cy="62.8" r="1.1" fill="#151515"/>
<circle cx="430.1" cy="88.3" r="1.1" fill="#e3191c"/>
<circle cx="438.5" cy="66.1" r="1.1" fill="#151515"/>
<circle cx="459.8" cy="46.9" r="1.1" fill="#78c043"/>
<circle cx="459.6" cy="74.7" r="1.1" fill="#151515"/>
<circle cx="351.1" cy="68.0" r="1.1" fill="#151515"/>
<circle cx="468.0" cy="70.5" r="1.1" fill="#e3191c"/>
<circle cx="404.8" cy="93.2" r="1.1" fill="#78c043"/>
<circle cx="481.4" cy="46.6" r="1.1" fill="#78c043"/>
<circle cx="416.9" cy="66.4" r="1.1" fill="#e3191c"/>
<circle cx="433.3" cy="54.8" r="1.1" fill="#78c043"/>
<circle cx="378.0" cy="54.6" r="1.1" fill="#151515"/>
<circle cx="473.6" cy="55.7" r="1.1" fill="#151515"/>
<circle cx="360.5" cy="46.0" r="1.1" fill="#151515"/>
<circle cx="471.5" cy="56.8" r="1.1" fill="#e3191c"/>
<circle cx="458.8" cy="78.5" r="1.1" fill="#151515"/>
<circle cx="488.0" cy="89.8" r="1.1" fill="#e3191c"/>
<circle cx="367.3" cy="54.1" r="1.1" fill="#e3191c"/>
<circle cx="337.4" cy="46.0" r="1.1" fill="#151515"/>
<circle cx="415.7" cy="33.4" r="1.1" fill="#e3191c"/>
<circle cx="430.9" cy="106.1" r="1.1" fill="#151515"/>
<circle cx="453.5" cy="102.7" r="1.1" fill="#78c043"/>
<circle cx="419.3" cy="49.4" r="1.1" fill="#e3191c"/>
<circle cx="371.2" cy="57.9" r="1.1" fill="#151515"/>
<circle cx="491.5" cy="47.7" r="1.1" fill="#78c043"/>
<circle cx="404.5" cy="26.5" r="1.1" fill="#151515"/>
<circle cx="463.7" cy="63.1" r="1.1" fill="#e3191c"/>
<circle cx="354.1" cy="76.1" r="1.1" fill="#151515"/>
<circle cx="486.1" cy="77.7" r="1.1" fill="#e3191c"/>
<circle cx="405.8" cy="41.2" r="1.1" fill="#151515"/>
<circle cx="459.5" cy="71.8" r="1.1" fill="#e3191c"/>
<circle cx="343.8" cy="79.4" r="1.1" fill="#e3191c"/>
<circle cx="464.1" cy="69.7" r="1.1" fill="#e3191c"/>
<circle cx="384.1" cy="91.4" r="1.1" fill="#151515"/>
<circle cx="473.5" cy="73.4" r="1.1" fill="#e3191c"/>
<circle cx="437.9" cy="86.9" r="1.1" fill="#e3191c"/>
<circle cx="440.2" cy="69.6" r="1.1" fill="#78c043"/>
<circle cx="481.9" cy="55.6" r="1.1" fill="#151515"/>
<circle cx="336.4" cy="43.0" r="1.1" fill="#151515"/>
<circle cx="408.2" cy="42.7" r="1.1" fill="#e3191c"/>
<circle cx="445.4" cy="88.3" r="1.1" fill="#e3191c"/>
<circle cx="456.8" cy="74.0" r="1.1" fill="#151515"/>
<circle cx="454.2" cy="49.5" r="1.1" fill="#e3191c"/>
<circle cx="365.8" cy="68.6" r="1.1" fill="#151515"/>
<circle cx="377.3" cy="17.2" r="1.1" fill="#e3191c"/>
<circle cx="462.6" cy="60.9" r="1.1" fill="#e3191c"/>
<circle cx="402.5" cy="74.0" r="1.1" fill="#e3191c"/>
<circle cx="358.5" cy="57.2" r="1.1" fill="#151515"/>
<circle cx="453.1" cy="54.3" r="1.1" fill="#151515"/>
<circle cx="346.0" cy="93.2" r="1.1" fill="#151515"/>
<circle cx="487.9" cy="81.2" r="1.1" fill="#e3191c"/>
<circle cx="478.3" cy="82.2" r="1.1" fill="#151515"/>
<circle cx="337.4" cy="56.3" r="1.1" fill="#151515"/>
<circle cx="342.9" cy="61.5" r="1.1" fill="#151515"/>
<circle cx="342.6" cy="39.2" r="1.1" fill="#78c043"/>
<circle cx="394.3" cy="44.6" r="1.1" fill="#151515"/>
<circle cx="345.3" cy="51.5" r="1.1" fill="#151515"/>
<circle cx="413.6" cy="68.2" r="1.1" fill="#151515"/>
<circle cx="474.2" cy="93.2" r="1.1" fill="#151515"/>
<circle cx="354.6" cy="55.1" r="1.1" fill="#151515"/>
<circle cx="476.0" cy="54.7" r="1.1" fill="#78c043"/>
<circle cx="426.9" cy="45.8" r="1.1" fill="#78c043"/>
<circle cx="487.2" cy="34.4" r="1.1" fill="#e3191c"/>
<circle cx="474.2" cy="70.8" r="1.1" fill="#151515"/>
<circle cx="426.0" cy="65.2" r="1.1" fill="#151515"/>
<circle cx="446.7" cy="51.0" r="1.1" fill="#e3191c"/>
<circle cx="357.7" cy="61.6" r="1.1" fill="#151515"/>
<circle cx="459.8" cy="60.5" r="1.1" fill="#151515"/>
<circle cx="352.1" cy="97.4" r="1.1" fill="#151515"/>
<circle cx="388.2" cy="91.4" r="1.1" fill="#78c043"/>
<circle cx="391.9" cy="62.3" r="1.1" fill="#78c043"/>
<circle cx="462.6" cy="67.8" r="1.1" fill="#151515"/>
<circle cx="402.6" cy="82.2" r="1.1" fill="#151515"/>
<circle cx="378.6" cy="57.3" r="1.1" fill="#151515"/>
<circle cx="338.3" cy="21.4" r="1.1" fill="#e3191c"/>
<circle cx="338.1" cy="58.0" r="1.1" fill="#78c043"/>
<circle cx="345.5" cy="74.7" r="1.1" fill="#78c043"/>
<circle cx="357.2" cy="74.0" r="1.1" fill="#151515"/>
<circle cx="464.8" cy="62.6" r="1.1" fill="#e3191c"/>
<circle cx="353.7" cy="40.3" r="1.1" fill="#e3191c"/>
<circle cx="416.4" cy="97.4" r="1.1" fill="#151515"/>
<circle cx="389.8" cy="45.4" r="1.1" fill="#151515"/>
<circle cx="487.4" cy="84.4" r="1.1" fill="#78c043"/>
<circle cx="490.8" cy="82.2" r="1.1" fill="#78c043"/>
<circle cx="476.8" cy="71.2" r="1.1" fill="#e3191c"/>
<circle cx="336.3" cy="41.9" r="1.1" fill="#e3191c"/>
<circle cx="480.0" cy="68.8" r="1.1" fill="#151515"/>
<circle cx="486.5" cy="85.6" r="1.1" fill="#e3191c"/>
<circle cx="343.8" cy="41.8" r="1.1" fill="#151515"/>
<circle cx="465.2" cy="56.8" r="1.1" fill="#151515"/>
<circle cx="346.1" cy="61.4" r="1.1" fill="#151515"/>
<circle cx="354.4" cy="42.8" r="1.1" fill="#e3191c"/>
<circle cx="474.7" cy="84.4" r="1.1" fill="#78c043"/>
<circle cx="423.1" cy="40.1" r="1.1" fill="#151515"/>
<circle cx="442.4" cy="60.2" r="1.1" fill="#e3191c"/>
<circle cx="374.1" cy="49.5" r="1.1" fill="#151515"/>
<circle cx="381.5" cy="46.1" r="1.1" fill="#78c043"/>
<circle cx="384.3" cy="18.8" r="1.1" fill="#151515"/>
<circle cx="348.6" cy="67.7" r="1.1" fill="#e3191c"/>
<circle cx="482.1" cy="65.8" r="1.1" fill="#151515"/>
<circle cx="461.0" cy="54.0" r="1.1" fill="#151515"/>
<circle cx="430.2" cy="89.8" r="1.1" fill="#151515"/>
<circle cx="337.8" cy="60.1" r="1.1" fill="#78c043"/>
<circle cx="346.3" cy="38.3" r="1.1" fill="#78c043"/>
<circle cx="358.3" cy="54.7" r="1.1" fill="#151515"/>
<circle cx="451.4" cy="86.9" r="1.1" fill="#151515"/>
<circle cx="437.6" cy="99.8" r="1.1" fill="#151515"/>
<circle cx="428.8" cy="72.4" r="1.1" fill="#78c043"/>
<circle cx="483.9" cy="56.8" r="1.1" fill="#e3191c"/>
<circle cx="428.1" cy="95.2" r="1.1" fill="#151515"/>
<circle cx="470.8" cy="99.8" r="1.1" fill="#151515"/>
<circle cx="495.6" cy="49.6" r="1.1" fill="#151515"/>
<circle cx="475.1" cy="24.7" r="1.1" fill="#151515"/>
<circle cx="369.3" cy="99.8" r="1.1" fill="#151515"/>
<circle cx="461.0" cy="78.5" r="1.1" fill="#e3191c"/>
<circle cx="425.8" cy="76.1" r="1.1" fill="#151515"/>
<circle cx="473.1" cy="57.5" r="1.1" fill="#e3191c"/>
<circle cx="396.9" cy="97.4" r="1.1" fill="#e3191c"/>
<circle cx="480.8" cy="52.0" r="1.1" fill="#e3191c"/>
<circle cx="347.1" cy="77.7" r="1.1" fill="#151515"/>
<circle cx="390.6" cy="21.1" r="1.1" fill="#151515"/>
<circle cx="349.7" cy="47.5" r="1.1" fill="#e3191c"/>
<circle cx="439.0" cy="62.9" r="1.1" fill="#78c043"/>
<circle cx="358.7" cy="39.7" r="1.1" fill="#151515"/>
<circle cx="418.5" cy="29.1" r="1.1" fill="#151515"/>
<circle cx="346.3" cy="95.2" r="1.1" fill="#151515"/>
<circle cx="468.5" cy="89.8" r="1.1" fill="#e3191c"/>
<circle cx="436.5" cy="60.7" r="1.1" fill="#151515"/>
<circle cx="481.6" cy="88.3" r="1.1" fill="#e3191c"/>
<circle cx="400.4" cy="26.0" r="1.1" fill="#e3191c"/>
<circle cx="387.0" cy="44.2" r="1.1" fill="#151515"/>
<circle cx="461.9" cy="88.3" r="1.1" fill="#e3191c"/>
<circle cx="483.9" cy="80.3" r="1.1" fill="#e3191c"/>
<circle cx="436.0" cy="79.4" r="1.1" fill="#151515"/>
<circle cx="340.7" cy="40.7" r="1.1" fill="#78c043"/>
<circle cx="459.8" cy="81.2" r="1.1" fill="#e3191c"/>
<circle cx="383.5" cy="32.3" r="1.1" fill="#151515"/>
<circle cx="347.0" cy="68.4" r="1.1" fill="#151515"/>
<circle cx="492.8" cy="50.5" r="1.1" fill="#78c043"/>
<circle cx="479.3" cy="24.1" r="1.1" fill="#e3191c"/>
<circle cx="377.9" cy="62.7" r="1.1" fill="#151515"/>
<circle cx="375.5" cy="77.7" r="1.1" fill="#e3191c"/>
<circle cx="397.0" cy="32.8" r="1.1" fill="#151515"/>
<circle cx="356.3" cy="42.9" r="1.1" fill="#151515"/>
<circle cx="457.9" cy="83.3" r="1.1" fill="#151515"/>
<circle cx="473.1" cy="83.3" r="1.1" fill="#e3191c"/>
<circle cx="401.1" cy="34.4" r="1.1" fill="#e3191c"/>
<circle cx="446.6" cy="88.3" r="1.1" fill="#e3191c"/>
<circle cx="352.0" cy="55.6" r="1.1" fill="#e3191c"/>
<circle cx="433.8" cy="59.9" r="1.1" fill="#e3191c"/>
<circle cx="358.1" cy="63.5" r="1.1" fill="#151515"/>
<circle cx="496.2" cy="93.2" r="1.1" fill="#e3191c"/>
<circle cx="450.2" cy="82.2" r="1.1" fill="#e3191c"/>
<circle cx="467.4" cy="76.9" r="1.1" fill="#e3191c"/>
<circle cx="452.0" cy="91.4" r="1.1" fill="#e3191c"/>
<circle cx="462.3" cy="63.6" r="1.1" fill="#78c043"/>
<circle cx="359.1" cy="71.3" r="1.1" fill="#e3191c"/>
<circle cx="476.0" cy="47.3" r="1.1" fill="#151515"/>
<circle cx="342.9" cy="76.9" r="1.1" fill="#151515"/>
<circle cx="388.5" cy="60.9" r="1.1" fill="#e3191c"/>
<circle cx="350.5" cy="88.3" r="1.1" fill="#78c043"/>
<circle cx="368.4" cy="41.5" r="1.1" fill="#151515"/>
<circle cx="470.8" cy="34.1" r="1.1" fill="#151515"/>
<circle cx="466.2" cy="86.9" r="1.1" fill="#151515"/>
<circle cx="368.1" cy="86.9" r="1.1" fill="#151515"/>
<circle cx="421.3" cy="18.8" r="1.1" fill="#e3191c"/>
<circle cx="359.5" cy="55.8" r="1.1" fill="#151515"/>
<circle cx="433.8" cy="76.9" r="1.1" fill="#151515"/>
<circle cx="368.1" cy="65.1" r="1.1" fill="#151515"/>
<circle cx="461.4" cy="66.7" r="1.1" fill="#e3191c"/>
<circle cx="381.8" cy="34.9" r="1.1" fill="#151515"/>
<circle cx="467.6" cy="57.5" r="1.1" fill="#e3191c"/>
<circle cx="465.0" cy="56.0" r="1.1" fill="#78c043"/>
<circle cx="415.9" cy="52.6" r="1.1" fill="#78c043"/>
<circle cx="402.0" cy="61.1" r="1.1" fill="#78c043"/>
<circle cx="459.8" cy="33.5" r="1.1" fill="#151515"/>
<circle cx="426.8" cy="65.2" r="1.1" fill="#151515"/>
<circle cx="379.9" cy="48.3" r="1.1" fill="#151515"/>
<circle cx="473.2" cy="71.4" r="1.1" fill="#e3191c"/>
<circle cx="474.8" cy="22.9" r="1.1" fill="#151515"/>
<circle cx="489.4" cy="82.2" r="1.1" fill="#151515"/>
<circle cx="466.7" cy="24.4" r="1.1" fill="#151515"/>
<circle cx="447.3" cy="93.2" r="1.1" fill="#151515"/>
<circle cx="364.3" cy="77.7" r="1.1" fill="#151515"/>
<circle cx="358.3" cy="39.9" r="1.1" fill="#151515"/>
<circle cx="338.6" cy="99.8" r="1.1" fill="#e3191c"/>
<circle cx="349.9" cy="76.9" r="1.1" fill="#151515"/>
<circle cx="425.7" cy="65.0" r="1.1" fill="#151515"/>
<circle cx="474.2" cy="68.9" r="1.1" fill="#78c043"/>
<circle cx="363.0" cy="42.1" r="1.1" fill="#151515"/>
<circle cx="391.4" cy="68.0" r="1.1" fill="#78c043"/>
<circle cx="473.1" cy="68.0" r="1.1" fill="#e3191c"/>
<circle cx="337.7" cy="76.9" r="1.1" fill="#e3191c"/>
<circle cx="473.5" cy="71.0" r="1.1" fill="#151515"/>
<circle cx="394.5" cy="19.3" r="1.1" fill="#151515"/>
<circle cx="411.6" cy="56.8" r="1.1" fill="#151515"/>
<circle cx="473.3" cy="99.8" r="1.1" fill="#e3191c"/>
<circle cx="488.8" cy="97.4" r="1.1" fill="#e3191c"/>
<circle cx="491.3" cy="45.8" r="1.1" fill="#78c043"/>
<circle cx="487.8" cy="70.2" r="1.1" fill="#e3191c"/>
<circle cx="367.5" cy="66.2" r="1.1" fill="#151515"/>
<circle cx="446.8" cy="59.0" r="1.1" fill="#e3191c"/>
<circle cx="463.0" cy="68.7" r="1.1" fill="#151515"/>
<circle cx="475.6" cy="88.3" r="1.1" fill="#78c043"/>
<circle cx="415.4" cy="21.6" r="1.1" fill="#e3191c"/>
<circle cx="408.1" cy="40.2" r="1.1" fill="#e3191c"/>
<circle cx="351.6" cy="69.4" r="1.1" fill="#e3191c"/>
<circle cx="487.7" cy="29.1" r="1.1" fill="#151515"/>
<circle cx="461.0" cy="93.2" r="1.1" fill="#151515"/>
<circle cx="469.9" cy="72.7" r="1.1" fill="#e3191c"/>
<circle cx="337.3" cy="42.7" r="1.1" fill="#151515"/>
<circle cx="339.9" cy="75.4" r="1.1" fill="#151515"/>
<circle cx="456.1" cy="95.2" r="1.1" fill="#151515"/>
<circle cx="463.2" cy="71.7" r="1.1" fill="#151515"/>
<circle cx="387.9" cy="41.5" r="1.1" fill="#151515"/>
<circle cx="346.2" cy="76.1" r="1.1" fill="#151515"/>
<circle cx="457.1" cy="79.4" r="1.1" fill="#e3191c"/>
<circle cx="380.8" cy="34.8" r="1.1" fill="#151515"/>
<circle cx="484.7" cy="59.2" r="1.1" fill="#e3191c"/>
<circle cx="487.2" cy="40.1" r="1.1" fill="#78c043"/>
<circle cx="424.3" cy="27.6" r="1.1" fill="#e3191c"/>
<circle cx="439.2" cy="85.6" r="1.1" fill="#e3191c"/>
<circle cx="448.0" cy="55.9" r="1.1" fill="#e3191c"/>
<circle cx="360.9" cy="99.8" r="1.1" fill="#151515"/>
<circle cx="392.4" cy="49.0" r="1.1" fill="#e3191c"/>
<circle cx="461.3" cy="59.8" r="1.1" fill="#78c043"/>
<circle cx="450.4" cy="29.4" r="1.1" fill="#151515"/>
<circle cx="463.1" cy="57.4" r="1.1" fill="#151515"/>
<circle cx="378.5" cy="63.4" r="1.1" fill="#151515"/>
<circle cx="345.7" cy="95.2" r="1.1" fill="#151515"/>
<circle cx="391.7" cy="43.8" r="1.1" fill="#151515"/>
<circle cx="418.4" cy="43.6" r="1.1" fill="#e3191c"/>
<circle cx="337.5" cy="57.4" r="1.1" fill="#151515"/>
<circle cx="481.4" cy="81.2" r="1.1" fill="#151515"/>
<circle cx="464.6" cy="66.0" r="1.1" fill="#78c043"/>
<circle cx="460.7" cy="24.6" r="1.1" fill="#151515"/>
<circle cx="437.9" cy="33.7" r="1.1" fill="#151515"/>
<circle cx="449.1" cy="63.6" r="1.1" fill="#151515"/>
<circle cx="479.9" cy="88.3" r="1.1" fill="#151515"/>
<circle cx="448.8" cy="86.9" r="1.1" fill="#e3191c"/>
<circle cx="341.7" cy="88.3" r="1.1" fill="#151515"/>
<circle cx="445.2" cy="54.0" r="1.1" fill="#151515"/>
<circle cx="478.5" cy="54.4" r="1.1" fill="#151515"/>
<circle cx="480.7" cy="68.2" r="1.1" fill="#e3191c"/>
<circle cx="353.0" cy="77.7" r="1.1" fill="#78c043"/>
<circle cx="478.5" cy="69.6" r="1.1" fill="#e3191c"/>
<circle cx="434.8" cy="81.2" r="1.1" fill="#151515"/>
<circle cx="461.4" cy="78.5" r="1.1" fill="#e3191c"/>
<circle cx="357.1" cy="51.3" r="1.1" fill="#78c043"/>
<circle cx="371.5" cy="79.4" r="1.1" fill="#151515"/>
<circle cx="407.0" cy="97.4" r="1.1" fill="#151515"/>
<circle cx="355.5" cy="41.6" r="1.1" fill="#151515"/>
<circle cx="414.6" cy="65.2" r="1.1" fill="#151515"/>
<circle cx="461.1" cy="99.8" r="1.1" fill="#78c043"/>
<circle cx="379.7" cy="102.7" r="1.1" fill="#151515"/>
<circle cx="344.2" cy="81.2" r="1.1" fill="#151515"/>
<circle cx="459.2" cy="61.5" r="1.1" fill="#e3191c"/>
<circle cx="390.0" cy="95.2" r="1.1" fill="#78c043"/>
<circle cx="379.4" cy="82.2" r="1.1" fill="#e3191c"/>
<circle cx="349.9" cy="68.0" r="1.1" fill="#151515"/>
<circle cx="396.5" cy="99.8" r="1.1" fill="#151515"/>
<circle cx="351.4" cy="35.4" r="1.1" fill="#151515"/>
<circle cx="444.1" cy="81.2" r="1.1" fill="#151515"/>
<circle cx="458.2" cy="81.2" r="1.1" fill="#78c043"/>
<circle cx="337.8" cy="86.9" r="1.1" fill="#78c043"/>
<circle cx="455.6" cy="78.5" r="1.1" fill="#78c043"/>
<circle cx="339.8" cy="41.2" r="1.1" fill="#e3191c"/>
<circle cx="399.7" cy="18.0" r="1.1" fill="#151515"/>
<circle cx="480.6" cy="54.8" r="1.1" fill="#151515"/>
<circle cx="471.4" cy="57.5" r="1.1" fill="#e3191c"/>
<circle cx="388.0" cy="53.3" r="1.1" fill="#e3191c"/>
<circle cx="339.2" cy="106.1" r="1.1" fill="#e3191c"/>
<circle cx="463.2" cy="60.9" r="1.1" fill="#e3191c"/>
<circle cx="445.4" cy="77.7" r="1.1" fill="#151515"/>
<circle cx="340.1" cy="38.7" r="1.1" fill="#151515"/>
<circle cx="392.1" cy="106.1" r="1.1" fill="#151515"/>
<circle cx="461.8" cy="58.7" r="1.1" fill="#e3191c"/>
<circle cx="360.0" cy="43.2" r="1.1" fill="#e3191c"/>
<circle cx="426.4" cy="93.2" r="1.1" fill="#151515"/>
<circle cx="462.5" cy="91.4" r="1.1" fill="#151515"/>
<circle cx="359.8" cy="89.8" r="1.1" fill="#151515"/>
<circle cx="464.0" cy="41.6" r="1.1" fill="#151515"/>
<circle cx="344.2" cy="76.1" r="1.1" fill="#e3191c"/>
<circle cx="407.2" cy="89.8" r="1.1" fill="#151515"/>
<circle cx="361.1" cy="42.4" r="1.1" fill="#e3191c"/>
<circle cx="450.3" cy="106.1" r="1.1" fill="#78c043"/>
<circle cx="480.3" cy="40.2" r="1.1" fill="#e3191c"/>
<circle cx="342.0" cy="69.1" r="1.1" fill="#e3191c"/>
<circle cx="437.8" cy="29.1" r="1.1" fill="#78c043"/>
<circle cx="464.2" cy="59.4" r="1.1" fill="#e3191c"/>
<circle cx="364.6" cy="46.5" r="1.1" fill="#151515"/>
<circle cx="451.3" cy="51.4" r="1.1" fill="#78c043"/>
<circle cx="486.8" cy="55.8" r="1.1" fill="#e3191c"/>
<circle cx="467.2" cy="74.7" r="1.1" fill="#e3191c"/>
<circle cx="380.9" cy="33.2" r="1.1" fill="#151515"/>
<circle cx="472.7" cy="69.2" r="1.1" fill="#e3191c"/>
<circle cx="441.2" cy="58.3" r="1.1" fill="#151515"/>
<circle cx="340.5" cy="80.3" r="1.1" fill="#78c043"/>
<circle cx="369.4" cy="47.7" r="1.1" fill="#e3191c"/>
<circle cx="348.2" cy="48.1" r="1.1" fill="#e3191c"/>
<circle cx="341.2" cy="32.3" r="1.1" fill="#78c043"/>
<circle cx="445.4" cy="20.1" r="1.1" fill="#151515"/>
<circle cx="359.3" cy="24.1" r="1.1" fill="#78c043"/>
<circle cx="435.4" cy="68.5" r="1.1" fill="#151515"/>
<circle cx="454.9" cy="78.5" r="1.1" fill="#78c043"/>
<circle cx="350.8" cy="22.1" r="1.1" fill="#151515"/>
<circle cx="469.6" cy="52.1" r="1.1" fill="#e3191c"/>
<circle cx="485.1" cy="74.7" r="1.1" fill="#e3191c"/>
<circle cx="397.8" cy="27.7" r="1.1" fill="#e3191c"/>
<circle cx="466.5" cy="68.1" r="1.1" fill="#78c043"/>
<circle cx="347.7" cy="41.1" r="1.1" fill="#151515"/>
<circle cx="431.2" cy="62.2" r="1.1" fill="#e3191c"/>
<circle cx="390.5" cy="39.6" r="1.1" fill="#78c043"/>
<circle cx="340.8" cy="62.1" r="1.1" fill="#151515"/>
<circle cx="473.7" cy="55.7" r="1.1" fill="#151515"/>
<circle cx="463.8" cy="73.4" r="1.1" fill="#e3191c"/>
<circle cx="496.9" cy="44.5" r="1.1" fill="#e3191c"/>
<circle cx="465.0" cy="80.3" r="1.1" fill="#78c043"/>
<circle cx="407.0" cy="61.6" r="1.1" fill="#151515"/>
<circle cx="362.3" cy="67.6" r="1.1" fill="#151515"/>
<circle cx="474.8" cy="95.2" r="1.1" fill="#e3191c"/>
<circle cx="480.0" cy="91.4" r="1.1" fill="#e3191c"/>
<circle cx="457.0" cy="99.8" r="1.1" fill="#78c043"/>
<circle cx="462.0" cy="73.4" r="1.1" fill="#e3191c"/>
<circle cx="434.8" cy="56.0" r="1.1" fill="#e3191c"/>
<circle cx="342.8" cy="52.6" r="1.1" fill="#78c043"/>
<circle cx="340.1" cy="65.0" r="1.1" fill="#151515"/>
<circle cx="494.1" cy="45.4" r="1.1" fill="#78c043"/>
<circle cx="354.4" cy="20.9" r="1.1" fill="#151515"/>
<circle cx="420.7" cy="58.0" r="1.1" fill="#151515"/>
<circle cx="392.3" cy="66.4" r="1.1" fill="#78c043"/>
<circle cx="475.4" cy="95.2" r="1.1" fill="#151515"/>
<circle cx="393.1" cy="32.4" r="1.1" fill="#e3191c"/>
<circle cx="393.3" cy="16.8" r="1.1" fill="#151515"/>
<circle cx="493.0" cy="67.6" r="1.1" fill="#e3191c"/>
<circle cx="479.0" cy="78.5" r="1.1" fill="#151515"/>
<circle cx="448.6" cy="58.3" r="1.1" fill="#78c043"/>
<circle cx="459.6" cy="58.4" r="1.1" fill="#e3191c"/>
<circle cx="456.1" cy="25.5" r="1.1" fill="#151515"/>
<circle cx="344.5" cy="63.5" r="1.1" fill="#151515"/>
<circle cx="349.8" cy="65.3" r="1.1" fill="#151515"/>
<circle cx="425.6" cy="72.7" r="1.1" fill="#151515"/>
<circle cx="408.0" cy="71.5" r="1.1" fill="#e3191c"/>
<circle cx="467.1" cy="43.1" r="1.1" fill="#151515"/>
<circle cx="436.2" cy="54.6" r="1.1" fill="#e3191c"/>
<circle cx="484.0" cy="83.3" r="1.1" fill="#e3191c"/>
<circle cx="355.8" cy="74.7" r="1.1" fill="#e3191c"/>
<circle cx="410.0" cy="24.7" r="1.1" fill="#e3191c"/>
<circle cx="441.0" cy="52.3" r="1.1" fill="#151515"/>
<circle cx="482.2" cy="76.1" r="1.1" fill="#e3191c"/>
<circle cx="446.3" cy="88.3" r="1.1" fill="#78c043"/>
<circle cx="384.2" cy="52.4" r="1.1" fill="#151515"/>
<circle cx="394.0" cy="95.2" r="1.1" fill="#78c043"/>
<circle cx="346.6" cy="47.9" r="1.1" fill="#151515"/>
<circle cx="419.4" cy="62.8" r="1.1" fill="#78c043"/>
<circle cx="373.6" cy="50.5" r="1.1" fill="#e3191c"/>
<circle cx="494.5" cy="71.1" r="1.1" fill="#78c043"/>
<circle cx="477.3" cy="61.1" r="1.1" fill="#151515"/>
<circle cx="399.5" cy="102.7" r="1.1" fill="#151515"/>
<circle cx="335.5" cy="102.7" r="1.1" fill="#151515"/>
<circle cx="359.8" cy="80.3" r="1.1" fill="#151515"/>
<circle cx="345.8" cy="51.1" r="1.1" fill="#78c043"/>
<circle cx="403.7" cy="77.7" r="1.1" fill="#78c043"/>
<circle cx="442.4" cy="74.7" r="1.1" fill="#151515"/>
<circle cx="406.3" cy="71.1" r="1.1" fill="#151515"/>
<circle cx="357.3" cy="35.3" r="1.1" fill="#151515"/>
<circle cx="384.3" cy="78.5" r="1.1" fill="#151515"/>
<circle cx="451.6" cy="62.8" r="1.1" fill="#151515"/>
<circle cx="436.1" cy="29.8" r="1.1" fill="#78c043"/>
<circle cx="375.7" cy="56.1" r="1.1" fill="#151515"/>
<circle cx="464.9" cy="57.0" r="1.1" fill="#e3191c"/>
<circle cx="381.5" cy="28.3" r="1.1" fill="#e3191c"/>
<circle cx="361.7" cy="36.4" r="1.1" fill="#e3191c"/>
<circle cx="495.5" cy="45.2" r="1.1" fill="#78c043"/>
<circle cx="391.1" cy="84.4" r="1.1" fill="#151515"/>
<circle cx="375.7" cy="32.6" r="1.1" fill="#e3191c"/>
<circle cx="450.2" cy="34.3" r="1.1" fill="#151515"/>
<circle cx="344.5" cy="61.0" r="1.1" fill="#78c043"/>
<circle cx="389.9" cy="43.0" r="1.1" fill="#151515"/>
<circle cx="468.1" cy="84.4" r="1.1" fill="#78c043"/>
<circle cx="335.4" cy="22.6" r="1.1" fill="#151515"/>
<circle cx="375.7" cy="45.8" r="1.1" fill="#e3191c"/>
<circle cx="429.6" cy="102.7" r="1.1" fill="#151515"/>
<circle cx="428.8" cy="72.3" r="1.1" fill="#151515"/>
<circle cx="461.4" cy="33.7" r="1.1" fill="#151515"/>
<circle cx="352.9" cy="61.9" r="1.1" fill="#e3191c"/>
<circle cx="358.1" cy="83.3" r="1.1" fill="#78c043"/>
<circle cx="479.0" cy="30.6" r="1.1" fill="#e3191c"/>
<circle cx="472.8" cy="91.4" r="1.1" fill="#78c043"/>
<circle cx="361.2" cy="82.2" r="1.1" fill="#151515"/>
<circle cx="382.5" cy="77.7" r="1.1" fill="#151515"/>
<circle cx="459.4" cy="50.5" r="1.1" fill="#151515"/>
<circle cx="343.7" cy="42.4" r="1.1" fill="#151515"/>
<circle cx="343.4" cy="57.1" r="1.1" fill="#151515"/>
<circle cx="419.8" cy="52.2" r="1.1" fill="#78c043"/>
<circle cx="470.9" cy="72.1" r="1.1" fill="#e3191c"/>
<circle cx="455.9" cy="54.4" r="1.1" fill="#151515"/>
<circle cx="429.7" cy="88.3" r="1.1" fill="#151515"/>
<circle cx="447.6" cy="54.6" r="1.1" fill="#e3191c"/>
<circle cx="389.0" cy="76.1" r="1.1" fill="#78c043"/>
<circle cx="401.6" cy="60.8" r="1.1" fill="#e3191c"/>
<circle cx="428.4" cy="70.8" r="1.1" fill="#e3191c"/>
<circle cx="428.8" cy="57.3" r="1.1" fill="#151515"/>
<circle cx="376.1" cy="51.3" r="1.1" fill="#151515"/>
<circle cx="441.5" cy="31.2" r="1.1" fill="#151515"/>
<circle cx="417.9" cy="80.3" r="1.1" fill="#78c043"/>
<circle cx="471.3" cy="85.6" r="1.1" fill="#e3191c"/>
<circle cx="373.6" cy="83.3" r="1.1" fill="#78c043"/>
<circle cx="461.5" cy="70.2" r="1.1" fill="#e3191c"/>
<circle cx="454.9" cy="42.5" r="1.1" fill="#151515"/>
<circle cx="359.5" cy="68.6" r="1.1" fill="#78c043"/>
<rect x="39.30" y="173.10" width="12.77" height="74.00" fill="#d3d3d3" stroke="#7a7a7a" stroke-width="0.7"/>
<rect x="52.07" y="211.70" width="12.77" height="35.40" fill="#d3d3d3" stroke="#7a7a7a" stroke-width="0.7"/>
<rect x="64.84" y="208.40" width="12.77" height="38.70" fill="#d3d3d3" stroke="#7a7a7a" stroke-width="0.7"/>
<rect x="77.61" y="216.30" width="12.77" height="30.80" fill="#d3d3d3" stroke="#7a7a7a" stroke-width="0.7"/>
<rect x="90.38" y="210.30" width="12.77" height="36.80" fill="#d3d3d3" stroke="#7a7a7a" stroke-width="0.7"/>
<rect x="103.15" y="217.90" width="12.77" height="29.20" fill="#d3d3d3" stroke="#7a7a7a" stroke-width="0.7"/>
<rect x="115.92" y="203.90" width="12.77" height="43.20" fill="#d3d3d3" stroke="#7a7a7a" stroke-width="0.7"/>
<rect x="128.69" y="179.90" width="12.77" height="67.20" fill="#d3d3d3" stroke="#7a7a7a" stroke-width="0.7"/>
<rect x="141.46" y="198.20" width="12.77" height="48.90" fill="#d3d3d3" stroke="#7a7a7a" stroke-width="0.7"/>
<rect x="154.23" y="230.00" width="12.77" height="17.10" fill="#d3d3d3" stroke="#7a7a7a" stroke-width="0.7"/>
<line x1="34.10" y1="173.10" x2="34.10" y2="247.10" stroke="#8a8a8a" stroke-width="0.9"/>
<line x1="31.50" y1="247.10" x2="34.10" y2="247.10" stroke="#8a8a8a" stroke-width="0.9"/>
<line x1="31.50" y1="234.77" x2="34.10" y2="234.77" stroke="#8a8a8a" stroke-width="0.9"/>
<line x1="31.50" y1="222.43" x2="34.10" y2="222.43" stroke="#8a8a8a" stroke-width="0.9"/>
<line x1="31.50" y1="210.10" x2="34.10" y2="210.10" stroke="#8a8a8a" stroke-width="0.9"/>
<line x1="31.50" y1="197.77" x2="34.10" y2="197.77" stroke="#8a8a8a" stroke-width="0.9"/>
<line x1="31.50" y1="185.43" x2="34.10" y2="185.43" stroke="#8a8a8a" stroke-width="0.9"/>
<line x1="31.50" y1="173.10" x2="34.10" y2="173.10" stroke="#8a8a8a" stroke-width="0.9"/>
<text x="27.60" y="247.10" font-size="11" text-anchor="middle" fill="#000" transform="rotate(-90 27.6 247.1)">0</text>
<text x="27.60" y="210.10" font-size="11" text-anchor="middle" fill="#000" transform="rotate(-90 27.6 210.1)">30</text>
<text x="27.60" y="173.10" font-size="11" text-anchor="middle" fill="#000" transform="rotate(-90 27.6 173.1)">60</text>
<line x1="39.30" y1="250.30" x2="167.00" y2="250.30" stroke="#8a8a8a" stroke-width="0.9"/>
<line x1="39.30" y1="250.30" x2="39.30" y2="252.90" stroke="#8a8a8a" stroke-width="0.9"/>
<line x1="64.84" y1="250.30" x2="64.84" y2="252.90" stroke="#8a8a8a" stroke-width="0.9"/>
<line x1="90.38" y1="250.30" x2="90.38" y2="252.90" stroke="#8a8a8a" stroke-width="0.9"/>
<line x1="115.92" y1="250.30" x2="115.92" y2="252.90" stroke="#8a8a8a" stroke-width="0.9"/>
<line x1="141.46" y1="250.30" x2="141.46" y2="252.90" stroke="#8a8a8a" stroke-width="0.9"/>
<line x1="167.00" y1="250.30" x2="167.00" y2="252.90" stroke="#8a8a8a" stroke-width="0.9"/>
<text x="39.30" y="263.40" font-size="11.2" text-anchor="middle" fill="#000">0</text>
<text x="167.00" y="263.40" font-size="11.2" text-anchor="middle" fill="#000">1000</text>
<text x="106.50" y="273.70" font-size="11.1" text-anchor="middle" fill="#000">Distance from M-line (nm)</text>
<text x="14.80" y="210.00" font-size="11.6" text-anchor="middle" fill="#000" transform="rotate(-90 14.8 210)">Frequency</text>
<text x="94.90" y="167.60" font-size="11.9" text-anchor="middle" fill="#000">Wildtype</text>
<rect x="212.00" y="208.40" width="12.77" height="38.70" fill="#d3d3d3" stroke="#7a7a7a" stroke-width="0.7"/>
<rect x="224.77" y="221.00" width="12.77" height="26.10" fill="#d3d3d3" stroke="#7a7a7a" stroke-width="0.7"/>
<rect x="237.54" y="224.30" width="12.77" height="22.80" fill="#d3d3d3" stroke="#7a7a7a" stroke-width="0.7"/>
<rect x="250.31" y="221.00" width="12.77" height="26.10" fill="#d3d3d3" stroke="#7a7a7a" stroke-width="0.7"/>
<rect x="263.08" y="227.30" width="12.77" height="19.80" fill="#d3d3d3" stroke="#7a7a7a" stroke-width="0.7"/>
<rect x="275.85" y="213.10" width="12.77" height="34.00" fill="#d3d3d3" stroke="#7a7a7a" stroke-width="0.7"/>
<rect x="288.62" y="187.40" width="12.77" height="59.70" fill="#d3d3d3" stroke="#7a7a7a" stroke-width="0.7"/>
<rect x="301.39" y="173.20" width="12.77" height="73.90" fill="#d3d3d3" stroke="#7a7a7a" stroke-width="0.7"/>
<rect x="314.16" y="185.60" width="12.77" height="61.50" fill="#d3d3d3" stroke="#7a7a7a" stroke-width="0.7"/>
<rect x="326.93" y="235.80" width="12.77" height="11.30" fill="#d3d3d3" stroke="#7a7a7a" stroke-width="0.7"/>
<line x1="206.60" y1="178.40" x2="206.60" y2="247.10" stroke="#8a8a8a" stroke-width="0.9"/>
<line x1="204.00" y1="246.90" x2="206.60" y2="246.90" stroke="#8a8a8a" stroke-width="0.9"/>
<line x1="204.00" y1="235.48" x2="206.60" y2="235.48" stroke="#8a8a8a" stroke-width="0.9"/>
<line x1="204.00" y1="224.07" x2="206.60" y2="224.07" stroke="#8a8a8a" stroke-width="0.9"/>
<line x1="204.00" y1="212.65" x2="206.60" y2="212.65" stroke="#8a8a8a" stroke-width="0.9"/>
<line x1="204.00" y1="201.23" x2="206.60" y2="201.23" stroke="#8a8a8a" stroke-width="0.9"/>
<line x1="204.00" y1="189.82" x2="206.60" y2="189.82" stroke="#8a8a8a" stroke-width="0.9"/>
<line x1="204.00" y1="178.40" x2="206.60" y2="178.40" stroke="#8a8a8a" stroke-width="0.9"/>
<text x="200.00" y="246.90" font-size="11" text-anchor="middle" fill="#000" transform="rotate(-90 200.0 246.9)">0</text>
<text x="200.00" y="212.60" font-size="11" text-anchor="middle" fill="#000" transform="rotate(-90 200.0 212.6)">30</text>
<text x="200.00" y="178.40" font-size="11" text-anchor="middle" fill="#000" transform="rotate(-90 200.0 178.4)">60</text>
<line x1="212.00" y1="250.30" x2="339.70" y2="250.30" stroke="#8a8a8a" stroke-width="0.9"/>
<line x1="212.00" y1="250.30" x2="212.00" y2="252.90" stroke="#8a8a8a" stroke-width="0.9"/>
<line x1="237.54" y1="250.30" x2="237.54" y2="252.90" stroke="#8a8a8a" stroke-width="0.9"/>
<line x1="263.08" y1="250.30" x2="263.08" y2="252.90" stroke="#8a8a8a" stroke-width="0.9"/>
<line x1="288.62" y1="250.30" x2="288.62" y2="252.90" stroke="#8a8a8a" stroke-width="0.9"/>
<line x1="314.16" y1="250.30" x2="314.16" y2="252.90" stroke="#8a8a8a" stroke-width="0.9"/>
<line x1="339.70" y1="250.30" x2="339.70" y2="252.90" stroke="#8a8a8a" stroke-width="0.9"/>
<text x="212.00" y="263.40" font-size="11.2" text-anchor="middle" fill="#000">0</text>
<text x="339.70" y="263.40" font-size="11.2" text-anchor="middle" fill="#000">1000</text>
<text x="275.75" y="273.70" font-size="12.85" text-anchor="middle" fill="#000">Distance from M-line (nm)</text>
<text x="187.40" y="210.00" font-size="11.6" text-anchor="middle" fill="#000" transform="rotate(-90 187.4 210)">Frequency</text>
<text x="273.20" y="168.60" font-size="12.3" text-anchor="middle" fill="#000">t/t</text>
<rect x="379.70" y="173.00" width="12.77" height="74.10" fill="#d3d3d3" stroke="#7a7a7a" stroke-width="0.7"/>
<rect x="392.47" y="184.10" width="12.77" height="63.00" fill="#d3d3d3" stroke="#7a7a7a" stroke-width="0.7"/>
<rect x="405.24" y="210.00" width="12.77" height="37.10" fill="#d3d3d3" stroke="#7a7a7a" stroke-width="0.7"/>
<rect x="418.01" y="221.40" width="12.77" height="25.70" fill="#d3d3d3" stroke="#7a7a7a" stroke-width="0.7"/>
<rect x="430.78" y="212.40" width="12.77" height="34.70" fill="#d3d3d3" stroke="#7a7a7a" stroke-width="0.7"/>
<rect x="443.55" y="203.40" width="12.77" height="43.70" fill="#d3d3d3" stroke="#7a7a7a" stroke-width="0.7"/>
<rect x="456.32" y="210.60" width="12.77" height="36.50" fill="#d3d3d3" stroke="#7a7a7a" stroke-width="0.7"/>
<rect x="469.09" y="204.90" width="12.77" height="42.20" fill="#d3d3d3" stroke="#7a7a7a" stroke-width="0.7"/>
<rect x="481.86" y="196.40" width="12.77" height="50.70" fill="#d3d3d3" stroke="#7a7a7a" stroke-width="0.7"/>
<rect x="494.63" y="235.60" width="12.77" height="11.50" fill="#d3d3d3" stroke="#7a7a7a" stroke-width="0.7"/>
<line x1="375.00" y1="177.70" x2="375.00" y2="247.10" stroke="#8a8a8a" stroke-width="0.9"/>
<line x1="372.40" y1="246.90" x2="375.00" y2="246.90" stroke="#8a8a8a" stroke-width="0.9"/>
<line x1="372.40" y1="235.37" x2="375.00" y2="235.37" stroke="#8a8a8a" stroke-width="0.9"/>
<line x1="372.40" y1="223.83" x2="375.00" y2="223.83" stroke="#8a8a8a" stroke-width="0.9"/>
<line x1="372.40" y1="212.30" x2="375.00" y2="212.30" stroke="#8a8a8a" stroke-width="0.9"/>
<line x1="372.40" y1="200.77" x2="375.00" y2="200.77" stroke="#8a8a8a" stroke-width="0.9"/>
<line x1="372.40" y1="189.23" x2="375.00" y2="189.23" stroke="#8a8a8a" stroke-width="0.9"/>
<line x1="372.40" y1="177.70" x2="375.00" y2="177.70" stroke="#8a8a8a" stroke-width="0.9"/>
<text x="369.00" y="246.90" font-size="11" text-anchor="middle" fill="#000" transform="rotate(-90 369.0 246.9)">0</text>
<text x="369.00" y="212.30" font-size="11" text-anchor="middle" fill="#000" transform="rotate(-90 369.0 212.3)">15</text>
<text x="369.00" y="177.70" font-size="11" text-anchor="middle" fill="#000" transform="rotate(-90 369.0 177.7)">30</text>
<line x1="379.70" y1="250.30" x2="507.40" y2="250.30" stroke="#8a8a8a" stroke-width="0.9"/>
<line x1="379.70" y1="250.30" x2="379.70" y2="252.90" stroke="#8a8a8a" stroke-width="0.9"/>
<line x1="405.24" y1="250.30" x2="405.24" y2="252.90" stroke="#8a8a8a" stroke-width="0.9"/>
<line x1="430.78" y1="250.30" x2="430.78" y2="252.90" stroke="#8a8a8a" stroke-width="0.9"/>
<line x1="456.32" y1="250.30" x2="456.32" y2="252.90" stroke="#8a8a8a" stroke-width="0.9"/>
<line x1="481.86" y1="250.30" x2="481.86" y2="252.90" stroke="#8a8a8a" stroke-width="0.9"/>
<line x1="507.40" y1="250.30" x2="507.40" y2="252.90" stroke="#8a8a8a" stroke-width="0.9"/>
<text x="379.70" y="263.40" font-size="11.2" text-anchor="middle" fill="#000">0</text>
<text x="507.40" y="263.40" font-size="11.2" text-anchor="middle" fill="#000">1000</text>
<text x="444.25" y="273.70" font-size="11.75" text-anchor="middle" fill="#000">Distance from M-line (nm)</text>
<text x="357.00" y="210.00" font-size="11.6" text-anchor="middle" fill="#000" transform="rotate(-90 357.0 210)">Frequency</text>
<text x="443.40" y="169.30" font-size="11.9" text-anchor="middle" fill="#000">ΔC0C1f</text>
<rect x="35.30" y="304.50" width="229.70" height="134.50" fill="none" stroke="#8a8a8a" stroke-width="0.9"/>
<line x1="39.90" y1="439.00" x2="39.90" y2="441.60" stroke="#8a8a8a" stroke-width="0.9"/>
<text x="39.90" y="453.60" font-size="11.4" text-anchor="middle" fill="#000">0</text>
<line x1="91.15" y1="439.00" x2="91.15" y2="441.60" stroke="#8a8a8a" stroke-width="0.9"/>
<text x="91.15" y="453.60" font-size="11.4" text-anchor="middle" fill="#000">200</text>
<line x1="142.40" y1="439.00" x2="142.40" y2="441.60" stroke="#8a8a8a" stroke-width="0.9"/>
<text x="142.40" y="453.60" font-size="11.4" text-anchor="middle" fill="#000">400</text>
<line x1="193.65" y1="439.00" x2="193.65" y2="441.60" stroke="#8a8a8a" stroke-width="0.9"/>
<text x="193.65" y="453.60" font-size="11.4" text-anchor="middle" fill="#000">600</text>
<line x1="244.90" y1="439.00" x2="244.90" y2="441.60" stroke="#8a8a8a" stroke-width="0.9"/>
<text x="244.90" y="453.60" font-size="11.4" text-anchor="middle" fill="#000">800</text>
<line x1="32.70" y1="433.70" x2="35.30" y2="433.70" stroke="#8a8a8a" stroke-width="0.9"/>
<line x1="32.70" y1="408.96" x2="35.30" y2="408.96" stroke="#8a8a8a" stroke-width="0.9"/>
<line x1="32.70" y1="384.22" x2="35.30" y2="384.22" stroke="#8a8a8a" stroke-width="0.9"/>
<line x1="32.70" y1="359.48" x2="35.30" y2="359.48" stroke="#8a8a8a" stroke-width="0.9"/>
<line x1="32.70" y1="334.74" x2="35.30" y2="334.74" stroke="#8a8a8a" stroke-width="0.9"/>
<line x1="32.70" y1="310.00" x2="35.30" y2="310.00" stroke="#8a8a8a" stroke-width="0.9"/>
<text x="29.70" y="310.00" font-size="11.4" text-anchor="middle" fill="#000" transform="rotate(-90 29.7 310.0)">1.0</text>
<text x="29.70" y="433.70" font-size="11.4" text-anchor="middle" fill="#000" transform="rotate(-90 29.7 433.7)">0.0</text>
<text x="151.00" y="462.80" font-size="11.7" text-anchor="middle" fill="#000">Distance from M-line (nm)</text>
<text x="24.00" y="371.60" font-size="11.9" text-anchor="middle" fill="#000" transform="rotate(-90 24.0 371.6)">SRX Fraction</text>
<clipPath id="clipD"><rect x="35.3" y="305.0" width="229.7" height="133.5"/></clipPath>
<g clip-path="url(#clipD)">
<line x1="60.30" y1="433.60" x2="60.30" y2="300.00" stroke="#3a3a3a" stroke-width="1.2" stroke-dasharray="4.3,2.82"/>
<line x1="79.20" y1="433.60" x2="79.20" y2="300.00" stroke="#3a3a3a" stroke-width="1.2" stroke-dasharray="4.3,2.82"/>
<line x1="167.40" y1="433.60" x2="167.40" y2="300.00" stroke="#3a3a3a" stroke-width="1.2" stroke-dasharray="4.3,2.82"/>
</g>
<g fill="none" stroke="#7cc24a" stroke-width="0.8"><circle cx="40.0" cy="360.0" r="2.4"/><circle cx="41.0" cy="363.4" r="2.4"/><circle cx="42.7" cy="361.0" r="2.4"/><circle cx="44.4" cy="360.7" r="2.4"/><circle cx="46.0" cy="362.9" r="2.4"/><circle cx="47.9" cy="362.0" r="2.4"/><circle cx="48.8" cy="363.2" r="2.4"/><circle cx="50.8" cy="362.3" r="2.4"/><circle cx="52.3" cy="364.4" r="2.4"/><circle cx="53.6" cy="362.6" r="2.4"/><circle cx="55.5" cy="360.2" r="2.4"/><circle cx="56.8" cy="361.8" r="2.4"/><circle cx="58.6" cy="359.3" r="2.4"/><circle cx="60.4" cy="362.0" r="2.4"/><circle cx="62.1" cy="360.6" r="2.4"/><circle cx="62.8" cy="363.7" r="2.4"/><circle cx="64.7" cy="365.3" r="2.4"/><circle cx="66.1" cy="365.1" r="2.4"/><circle cx="67.9" cy="364.7" r="2.4"/><circle cx="69.6" cy="364.9" r="2.4"/><circle cx="70.7" cy="363.0" r="2.4"/><circle cx="72.7" cy="367.5" r="2.4"/><circle cx="74.1" cy="367.5" r="2.4"/><circle cx="75.3" cy="363.8" r="2.4"/><circle cx="77.3" cy="365.6" r="2.4"/><circle cx="79.2" cy="366.3" r="2.4"/><circle cx="80.2" cy="367.1" r="2.4"/><circle cx="82.3" cy="366.5" r="2.4"/><circle cx="83.3" cy="364.2" r="2.4"/><circle cx="85.2" cy="365.9" r="2.4"/><circle cx="87.0" cy="364.6" r="2.4"/><circle cx="88.1" cy="362.6" r="2.4"/><circle cx="90.0" cy="362.4" r="2.4"/><circle cx="91.6" cy="364.3" r="2.4"/><circle cx="93.4" cy="364.7" r="2.4"/><circle cx="94.9" cy="362.8" r="2.4"/><circle cx="95.9" cy="359.6" r="2.4"/><circle cx="97.9" cy="362.3" r="2.4"/><circle cx="99.7" cy="366.3" r="2.4"/><circle cx="101.2" cy="376.2" r="2.4"/><circle cx="102.1" cy="368.4" r="2.4"/><circle cx="103.5" cy="372.8" r="2.4"/><circle cx="105.1" cy="376.0" r="2.4"/><circle cx="106.8" cy="369.0" r="2.4"/><circle cx="108.7" cy="377.5" r="2.4"/><circle cx="110.0" cy="376.4" r="2.4"/><circle cx="112.1" cy="372.4" r="2.4"/><circle cx="113.5" cy="375.2" r="2.4"/><circle cx="115.2" cy="378.5" r="2.4"/><circle cx="116.2" cy="378.7" r="2.4"/><circle cx="117.7" cy="387.2" r="2.4"/><circle cx="120.0" cy="386.7" r="2.4"/><circle cx="120.9" cy="388.7" r="2.4"/><circle cx="122.4" cy="391.1" r="2.4"/><circle cx="124.8" cy="388.6" r="2.4"/><circle cx="125.4" cy="402.0" r="2.4"/><circle cx="127.3" cy="388.1" r="2.4"/><circle cx="128.7" cy="389.3" r="2.4"/><circle cx="130.5" cy="394.1" r="2.4"/><circle cx="131.7" cy="398.4" r="2.4"/><circle cx="133.6" cy="397.0" r="2.4"/><circle cx="135.3" cy="396.3" r="2.4"/><circle cx="136.5" cy="399.2" r="2.4"/><circle cx="138.0" cy="403.4" r="2.4"/><circle cx="139.8" cy="405.2" r="2.4"/><circle cx="141.9" cy="395.4" r="2.4"/><circle cx="143.1" cy="404.1" r="2.4"/><circle cx="144.3" cy="399.1" r="2.4"/><circle cx="146.2" cy="404.2" r="2.4"/><circle cx="147.7" cy="401.4" r="2.4"/><circle cx="149.0" cy="401.2" r="2.4"/><circle cx="151.4" cy="404.4" r="2.4"/><circle cx="152.5" cy="403.4" r="2.4"/><circle cx="154.2" cy="407.9" r="2.4"/><circle cx="155.3" cy="406.2" r="2.4"/><circle cx="157.2" cy="404.3" r="2.4"/><circle cx="159.2" cy="405.2" r="2.4"/><circle cx="160.6" cy="409.7" r="2.4"/><circle cx="162.4" cy="408.4" r="2.4"/><circle cx="163.9" cy="406.2" r="2.4"/><circle cx="164.8" cy="413.9" r="2.4"/><circle cx="166.3" cy="407.5" r="2.4"/><circle cx="167.9" cy="409.0" r="2.4"/><circle cx="170.0" cy="409.6" r="2.4"/><circle cx="171.5" cy="403.6" r="2.4"/><circle cx="172.6" cy="404.3" r="2.4"/><circle cx="174.0" cy="400.7" r="2.4"/><circle cx="176.3" cy="404.7" r="2.4"/><circle cx="177.3" cy="407.3" r="2.4"/><circle cx="178.8" cy="407.1" r="2.4"/><circle cx="180.4" cy="401.4" r="2.4"/><circle cx="182.1" cy="403.4" r="2.4"/><circle cx="184.3" cy="408.1" r="2.4"/><circle cx="185.8" cy="407.0" r="2.4"/><circle cx="187.2" cy="402.1" r="2.4"/><circle cx="188.8" cy="404.1" r="2.4"/><circle cx="190.2" cy="405.5" r="2.4"/><circle cx="192.2" cy="406.9" r="2.4"/><circle cx="193.7" cy="404.3" r="2.4"/><circle cx="194.4" cy="406.5" r="2.4"/><circle cx="196.5" cy="404.8" r="2.4"/><circle cx="198.1" cy="398.2" r="2.4"/><circle cx="199.4" cy="407.9" r="2.4"/><circle cx="201.2" cy="408.6" r="2.4"/><circle cx="202.9" cy="407.6" r="2.4"/><circle cx="204.6" cy="412.9" r="2.4"/><circle cx="205.8" cy="409.9" r="2.4"/><circle cx="206.9" cy="414.9" r="2.4"/><circle cx="208.5" cy="416.5" r="2.4"/><circle cx="210.5" cy="417.3" r="2.4"/><circle cx="211.9" cy="416.2" r="2.4"/><circle cx="213.3" cy="418.5" r="2.4"/><circle cx="215.6" cy="416.6" r="2.4"/><circle cx="216.4" cy="419.3" r="2.4"/><circle cx="218.0" cy="420.3" r="2.4"/><circle cx="219.5" cy="420.2" r="2.4"/><circle cx="221.3" cy="418.2" r="2.4"/><circle cx="223.0" cy="418.9" r="2.4"/><circle cx="224.6" cy="419.4" r="2.4"/><circle cx="225.9" cy="417.2" r="2.4"/><circle cx="227.4" cy="420.0" r="2.4"/><circle cx="229.7" cy="419.5" r="2.4"/><circle cx="230.7" cy="419.8" r="2.4"/><circle cx="232.5" cy="416.1" r="2.4"/><circle cx="233.9" cy="418.2" r="2.4"/><circle cx="236.0" cy="418.2" r="2.4"/><circle cx="237.6" cy="422.2" r="2.4"/><circle cx="238.4" cy="419.3" r="2.4"/><circle cx="239.8" cy="418.8" r="2.4"/><circle cx="241.6" cy="417.3" r="2.4"/><circle cx="243.7" cy="417.7" r="2.4"/><circle cx="244.5" cy="416.3" r="2.4"/><circle cx="246.8" cy="419.9" r="2.4"/><circle cx="248.0" cy="418.7" r="2.4"/><circle cx="249.9" cy="419.7" r="2.4"/><circle cx="251.7" cy="422.2" r="2.4"/><circle cx="252.4" cy="418.2" r="2.4"/><circle cx="254.5" cy="423.5" r="2.4"/><circle cx="255.9" cy="427.8" r="2.4"/><circle cx="257.7" cy="426.8" r="2.4"/></g>
<g fill="none" stroke="#dd2222" stroke-width="0.8"><circle cx="40.0" cy="377.9" r="2.4"/><circle cx="40.7" cy="376.4" r="2.4"/><circle cx="42.2" cy="375.0" r="2.4"/><circle cx="43.8" cy="376.7" r="2.4"/><circle cx="45.5" cy="376.9" r="2.4"/><circle cx="46.8" cy="377.5" r="2.4"/><circle cx="48.4" cy="376.4" r="2.4"/><circle cx="50.1" cy="377.6" r="2.4"/><circle cx="51.6" cy="377.4" r="2.4"/><circle cx="52.9" cy="377.3" r="2.4"/><circle cx="54.1" cy="376.0" r="2.4"/><circle cx="55.9" cy="377.8" r="2.4"/><circle cx="57.1" cy="378.6" r="2.4"/><circle cx="59.0" cy="377.9" r="2.4"/><circle cx="59.7" cy="378.1" r="2.4"/><circle cx="61.3" cy="377.9" r="2.4"/><circle cx="62.9" cy="376.7" r="2.4"/><circle cx="64.7" cy="376.7" r="2.4"/><circle cx="65.8" cy="380.3" r="2.4"/><circle cx="67.5" cy="379.6" r="2.4"/><circle cx="68.9" cy="379.4" r="2.4"/><circle cx="70.8" cy="378.4" r="2.4"/><circle cx="71.5" cy="379.0" r="2.4"/><circle cx="73.5" cy="378.1" r="2.4"/><circle cx="74.3" cy="379.0" r="2.4"/><circle cx="76.5" cy="381.0" r="2.4"/><circle cx="78.0" cy="377.3" r="2.4"/><circle cx="79.5" cy="376.5" r="2.4"/><circle cx="80.4" cy="377.7" r="2.4"/><circle cx="81.9" cy="380.7" r="2.4"/><circle cx="83.2" cy="378.3" r="2.4"/><circle cx="85.3" cy="376.8" r="2.4"/><circle cx="86.1" cy="377.4" r="2.4"/><circle cx="87.6" cy="378.8" r="2.4"/><circle cx="89.4" cy="378.0" r="2.4"/><circle cx="91.3" cy="379.6" r="2.4"/><circle cx="92.5" cy="379.2" r="2.4"/><circle cx="94.1" cy="380.1" r="2.4"/><circle cx="94.8" cy="379.6" r="2.4"/><circle cx="97.1" cy="381.0" r="2.4"/><circle cx="97.8" cy="378.8" r="2.4"/><circle cx="100.0" cy="382.8" r="2.4"/><circle cx="101.3" cy="376.6" r="2.4"/><circle cx="102.5" cy="380.6" r="2.4"/><circle cx="104.5" cy="385.4" r="2.4"/><circle cx="105.5" cy="381.1" r="2.4"/><circle cx="106.8" cy="386.7" r="2.4"/><circle cx="108.0" cy="389.6" r="2.4"/><circle cx="109.7" cy="380.7" r="2.4"/><circle cx="111.4" cy="384.1" r="2.4"/><circle cx="112.9" cy="386.3" r="2.4"/><circle cx="114.2" cy="385.9" r="2.4"/><circle cx="115.8" cy="386.8" r="2.4"/><circle cx="116.8" cy="385.2" r="2.4"/><circle cx="118.8" cy="381.8" r="2.4"/><circle cx="120.1" cy="384.0" r="2.4"/><circle cx="121.8" cy="384.4" r="2.4"/><circle cx="123.1" cy="380.0" r="2.4"/><circle cx="124.3" cy="382.6" r="2.4"/><circle cx="125.7" cy="382.3" r="2.4"/><circle cx="127.2" cy="381.7" r="2.4"/><circle cx="129.2" cy="380.5" r="2.4"/><circle cx="130.5" cy="383.5" r="2.4"/><circle cx="131.7" cy="385.4" r="2.4"/><circle cx="133.4" cy="389.2" r="2.4"/><circle cx="134.6" cy="381.4" r="2.4"/><circle cx="136.4" cy="387.3" r="2.4"/><circle cx="137.2" cy="389.6" r="2.4"/><circle cx="139.1" cy="386.7" r="2.4"/><circle cx="140.5" cy="390.0" r="2.4"/><circle cx="142.1" cy="391.9" r="2.4"/><circle cx="143.3" cy="385.8" r="2.4"/><circle cx="145.2" cy="387.6" r="2.4"/><circle cx="146.6" cy="390.9" r="2.4"/><circle cx="148.1" cy="389.1" r="2.4"/><circle cx="149.0" cy="389.5" r="2.4"/><circle cx="151.2" cy="389.5" r="2.4"/><circle cx="152.1" cy="388.6" r="2.4"/><circle cx="153.6" cy="389.9" r="2.4"/><circle cx="154.8" cy="387.5" r="2.4"/><circle cx="156.3" cy="386.1" r="2.4"/><circle cx="158.0" cy="385.9" r="2.4"/><circle cx="159.1" cy="388.1" r="2.4"/><circle cx="160.6" cy="387.7" r="2.4"/><circle cx="162.2" cy="391.7" r="2.4"/><circle cx="163.6" cy="390.6" r="2.4"/><circle cx="165.7" cy="389.5" r="2.4"/><circle cx="166.6" cy="391.0" r="2.4"/><circle cx="168.3" cy="398.6" r="2.4"/><circle cx="170.3" cy="392.9" r="2.4"/><circle cx="171.1" cy="395.0" r="2.4"/><circle cx="173.0" cy="397.9" r="2.4"/><circle cx="173.8" cy="394.1" r="2.4"/><circle cx="175.2" cy="396.1" r="2.4"/><circle cx="177.3" cy="396.5" r="2.4"/><circle cx="178.6" cy="399.0" r="2.4"/><circle cx="179.8" cy="399.4" r="2.4"/><circle cx="181.8" cy="399.7" r="2.4"/><circle cx="182.7" cy="394.7" r="2.4"/><circle cx="184.8" cy="400.8" r="2.4"/><circle cx="185.5" cy="398.4" r="2.4"/><circle cx="187.7" cy="401.1" r="2.4"/><circle cx="188.4" cy="401.0" r="2.4"/><circle cx="190.2" cy="403.6" r="2.4"/><circle cx="192.2" cy="404.4" r="2.4"/><circle cx="192.9" cy="404.4" r="2.4"/><circle cx="194.5" cy="403.3" r="2.4"/><circle cx="196.0" cy="406.5" r="2.4"/><circle cx="197.4" cy="405.7" r="2.4"/><circle cx="199.0" cy="408.0" r="2.4"/><circle cx="200.5" cy="405.8" r="2.4"/><circle cx="202.2" cy="408.1" r="2.4"/><circle cx="203.4" cy="409.0" r="2.4"/><circle cx="204.8" cy="407.4" r="2.4"/><circle cx="206.4" cy="408.5" r="2.4"/><circle cx="207.8" cy="409.8" r="2.4"/><circle cx="209.7" cy="410.6" r="2.4"/><circle cx="211.2" cy="412.1" r="2.4"/><circle cx="212.4" cy="409.5" r="2.4"/><circle cx="214.0" cy="406.7" r="2.4"/><circle cx="214.9" cy="411.8" r="2.4"/><circle cx="216.1" cy="409.2" r="2.4"/><circle cx="218.4" cy="411.5" r="2.4"/><circle cx="219.4" cy="411.9" r="2.4"/><circle cx="220.9" cy="413.3" r="2.4"/><circle cx="222.3" cy="412.0" r="2.4"/><circle cx="224.1" cy="414.6" r="2.4"/><circle cx="225.0" cy="414.5" r="2.4"/><circle cx="226.6" cy="413.0" r="2.4"/><circle cx="228.2" cy="414.2" r="2.4"/><circle cx="230.1" cy="413.6" r="2.4"/><circle cx="231.0" cy="414.3" r="2.4"/><circle cx="232.9" cy="414.3" r="2.4"/><circle cx="234.5" cy="415.1" r="2.4"/><circle cx="235.4" cy="419.0" r="2.4"/><circle cx="236.7" cy="417.3" r="2.4"/><circle cx="238.7" cy="419.0" r="2.4"/><circle cx="239.5" cy="419.2" r="2.4"/><circle cx="241.8" cy="419.7" r="2.4"/><circle cx="243.4" cy="420.4" r="2.4"/><circle cx="244.0" cy="419.3" r="2.4"/><circle cx="245.6" cy="421.0" r="2.4"/><circle cx="246.9" cy="421.6" r="2.4"/><circle cx="249.1" cy="422.0" r="2.4"/><circle cx="250.5" cy="424.7" r="2.4"/><circle cx="252.0" cy="424.6" r="2.4"/><circle cx="252.9" cy="424.2" r="2.4"/><circle cx="254.6" cy="425.5" r="2.4"/><circle cx="256.3" cy="425.5" r="2.4"/><circle cx="257.2" cy="426.2" r="2.4"/></g>
<g fill="none" stroke="#1e1e1e" stroke-width="0.85"><circle cx="39.4" cy="359.2" r="2.4"/><circle cx="41.5" cy="356.3" r="2.4"/><circle cx="43.2" cy="355.9" r="2.4"/><circle cx="44.4" cy="354.7" r="2.4"/><circle cx="46.2" cy="356.4" r="2.4"/><circle cx="47.4" cy="354.2" r="2.4"/><circle cx="49.2" cy="355.9" r="2.4"/><circle cx="51.6" cy="356.9" r="2.4"/><circle cx="53.0" cy="358.6" r="2.4"/><circle cx="54.5" cy="354.5" r="2.4"/><circle cx="56.2" cy="355.1" r="2.4"/><circle cx="57.9" cy="356.0" r="2.4"/><circle cx="59.2" cy="354.2" r="2.4"/><circle cx="60.4" cy="354.7" r="2.4"/><circle cx="62.9" cy="357.4" r="2.4"/><circle cx="64.2" cy="356.8" r="2.4"/><circle cx="65.9" cy="355.1" r="2.4"/><circle cx="67.6" cy="356.2" r="2.4"/><circle cx="68.5" cy="359.7" r="2.4"/><circle cx="70.1" cy="354.1" r="2.4"/><circle cx="72.3" cy="356.0" r="2.4"/><circle cx="74.2" cy="356.2" r="2.4"/><circle cx="75.4" cy="355.4" r="2.4"/><circle cx="76.9" cy="356.1" r="2.4"/><circle cx="78.8" cy="354.1" r="2.4"/><circle cx="80.2" cy="353.5" r="2.4"/><circle cx="82.4" cy="354.3" r="2.4"/><circle cx="83.1" cy="351.3" r="2.4"/><circle cx="85.4" cy="348.3" r="2.4"/><circle cx="87.1" cy="347.4" r="2.4"/><circle cx="88.0" cy="349.6" r="2.4"/><circle cx="90.2" cy="351.9" r="2.4"/><circle cx="92.2" cy="347.5" r="2.4"/><circle cx="92.9" cy="347.5" r="2.4"/><circle cx="94.7" cy="346.7" r="2.4"/><circle cx="96.7" cy="352.5" r="2.4"/><circle cx="98.2" cy="346.7" r="2.4"/><circle cx="99.7" cy="347.9" r="2.4"/><circle cx="101.5" cy="349.8" r="2.4"/><circle cx="103.4" cy="356.3" r="2.4"/><circle cx="105.2" cy="356.7" r="2.4"/><circle cx="106.8" cy="358.9" r="2.4"/><circle cx="108.0" cy="358.7" r="2.4"/><circle cx="109.1" cy="359.0" r="2.4"/><circle cx="110.8" cy="355.6" r="2.4"/><circle cx="112.8" cy="359.5" r="2.4"/><circle cx="114.3" cy="355.6" r="2.4"/><circle cx="116.4" cy="357.0" r="2.4"/><circle cx="118.0" cy="355.6" r="2.4"/><circle cx="119.0" cy="354.3" r="2.4"/><circle cx="121.0" cy="358.8" r="2.4"/><circle cx="122.3" cy="353.6" r="2.4"/><circle cx="124.5" cy="354.4" r="2.4"/><circle cx="126.3" cy="355.5" r="2.4"/><circle cx="127.2" cy="357.3" r="2.4"/><circle cx="128.8" cy="354.8" r="2.4"/><circle cx="130.8" cy="357.2" r="2.4"/><circle cx="132.2" cy="355.9" r="2.4"/><circle cx="133.6" cy="356.6" r="2.4"/><circle cx="135.9" cy="359.5" r="2.4"/><circle cx="137.0" cy="358.4" r="2.4"/><circle cx="138.7" cy="354.0" r="2.4"/><circle cx="140.8" cy="359.2" r="2.4"/><circle cx="142.2" cy="360.1" r="2.4"/><circle cx="144.1" cy="359.3" r="2.4"/><circle cx="145.5" cy="359.3" r="2.4"/><circle cx="146.6" cy="362.4" r="2.4"/><circle cx="148.6" cy="361.2" r="2.4"/><circle cx="150.6" cy="362.0" r="2.4"/><circle cx="152.2" cy="361.4" r="2.4"/><circle cx="153.1" cy="364.7" r="2.4"/><circle cx="154.9" cy="366.4" r="2.4"/><circle cx="156.9" cy="362.4" r="2.4"/><circle cx="158.0" cy="364.3" r="2.4"/><circle cx="160.2" cy="364.6" r="2.4"/><circle cx="161.7" cy="363.5" r="2.4"/><circle cx="162.9" cy="363.5" r="2.4"/><circle cx="164.5" cy="363.4" r="2.4"/><circle cx="167.0" cy="366.6" r="2.4"/><circle cx="168.5" cy="364.8" r="2.4"/><circle cx="169.9" cy="368.3" r="2.4"/><circle cx="171.7" cy="369.0" r="2.4"/><circle cx="173.5" cy="367.6" r="2.4"/><circle cx="175.0" cy="368.4" r="2.4"/><circle cx="175.9" cy="369.5" r="2.4"/><circle cx="178.2" cy="370.5" r="2.4"/><circle cx="180.0" cy="370.6" r="2.4"/><circle cx="180.9" cy="370.9" r="2.4"/><circle cx="183.0" cy="369.9" r="2.4"/><circle cx="184.4" cy="369.1" r="2.4"/><circle cx="186.4" cy="369.4" r="2.4"/><circle cx="187.4" cy="369.7" r="2.4"/><circle cx="189.6" cy="367.9" r="2.4"/><circle cx="190.4" cy="369.4" r="2.4"/><circle cx="192.9" cy="369.8" r="2.4"/><circle cx="194.5" cy="371.5" r="2.4"/><circle cx="195.6" cy="370.9" r="2.4"/><circle cx="197.0" cy="368.3" r="2.4"/><circle cx="199.2" cy="370.7" r="2.4"/><circle cx="200.1" cy="373.5" r="2.4"/><circle cx="202.0" cy="373.0" r="2.4"/><circle cx="203.8" cy="375.7" r="2.4"/><circle cx="205.6" cy="374.2" r="2.4"/><circle cx="207.0" cy="375.7" r="2.4"/><circle cx="208.9" cy="377.6" r="2.4"/><circle cx="210.5" cy="374.9" r="2.4"/><circle cx="212.1" cy="375.4" r="2.4"/><circle cx="213.4" cy="378.6" r="2.4"/><circle cx="215.6" cy="383.7" r="2.4"/><circle cx="216.6" cy="380.6" r="2.4"/><circle cx="218.0" cy="384.6" r="2.4"/><circle cx="220.5" cy="388.8" r="2.4"/><circle cx="222.2" cy="383.9" r="2.4"/><circle cx="223.6" cy="384.6" r="2.4"/><circle cx="225.4" cy="384.2" r="2.4"/><circle cx="226.4" cy="384.4" r="2.4"/><circle cx="228.2" cy="384.7" r="2.4"/><circle cx="230.2" cy="384.6" r="2.4"/><circle cx="231.9" cy="381.3" r="2.4"/><circle cx="233.6" cy="384.0" r="2.4"/><circle cx="234.4" cy="382.8" r="2.4"/><circle cx="236.2" cy="382.6" r="2.4"/><circle cx="237.9" cy="382.5" r="2.4"/><circle cx="239.4" cy="381.4" r="2.4"/><circle cx="240.8" cy="384.4" r="2.4"/><circle cx="242.4" cy="384.4" r="2.4"/><circle cx="244.3" cy="385.5" r="2.4"/><circle cx="245.8" cy="383.0" r="2.4"/><circle cx="247.3" cy="382.9" r="2.4"/><circle cx="249.2" cy="383.0" r="2.4"/><circle cx="251.3" cy="390.3" r="2.4"/><circle cx="252.7" cy="387.6" r="2.4"/><circle cx="254.4" cy="389.5" r="2.4"/><circle cx="255.5" cy="386.9" r="2.4"/><circle cx="257.5" cy="389.8" r="2.4"/></g>
<line x1="39.70" y1="358.20" x2="79.30" y2="353.80" stroke="#000" stroke-width="1.6"/>
<line x1="79.50" y1="347.20" x2="257.50" y2="390.50" stroke="#000" stroke-width="1.6"/>
<line x1="79.30" y1="371.60" x2="257.50" y2="426.30" stroke="#d42020" stroke-width="1.6"/>
<line x1="79.30" y1="371.60" x2="257.50" y2="427.60" stroke="#77bb3f" stroke-width="1.6"/>
<text x="179.40" y="360.80" font-size="11.7" text-anchor="middle" fill="#000">WT</text>
<text x="143.80" y="381.80" font-size="11.4" text-anchor="middle" fill="#dd2222">t/t</text>
<text x="101.50" y="406.00" font-size="12" text-anchor="middle" fill="#77bb3f">ΔC0C1f</text>
<text x="47.60" y="432.30" font-size="10.2" text-anchor="middle" fill="#000">Bare</text>
<text x="69.40" y="432.30" font-size="11.6" text-anchor="middle" fill="#000">P</text>
<text x="123.00" y="432.30" font-size="11.6" text-anchor="middle" fill="#000">C</text>
<text x="212.30" y="432.60" font-size="11.6" text-anchor="middle" fill="#000">D</text>
<line x1="304.40" y1="303.10" x2="304.40" y2="422.30" stroke="#8a8a8a" stroke-width="0.9"/>
<line x1="301.80" y1="422.30" x2="304.40" y2="422.30" stroke="#8a8a8a" stroke-width="0.9"/>
<line x1="301.80" y1="398.46" x2="304.40" y2="398.46" stroke="#8a8a8a" stroke-width="0.9"/>
<line x1="301.80" y1="374.62" x2="304.40" y2="374.62" stroke="#8a8a8a" stroke-width="0.9"/>
<line x1="301.80" y1="350.78" x2="304.40" y2="350.78" stroke="#8a8a8a" stroke-width="0.9"/>
<line x1="301.80" y1="326.94" x2="304.40" y2="326.94" stroke="#8a8a8a" stroke-width="0.9"/>
<line x1="301.80" y1="303.10" x2="304.40" y2="303.10" stroke="#8a8a8a" stroke-width="0.9"/>
<text x="299.90" y="303.40" font-size="11.4" text-anchor="middle" fill="#000" transform="rotate(-90 299.9 303.4)">1.0</text>
<text x="299.90" y="422.00" font-size="11.4" text-anchor="middle" fill="#000" transform="rotate(-90 299.9 422.0)">0.0</text>
<text x="294.20" y="357.50" font-size="11" text-anchor="middle" fill="#000" transform="rotate(-90 294.2 357.5)">Fraction of Events</text>
<rect x="307.20" y="303.10" width="15.40" height="119.20" fill="#fff" stroke="#9a9a9a" stroke-width="0.8"/>
<rect x="307.20" y="337.00" width="15.40" height="85.30" fill="#111111" stroke="none" stroke-width="1"/>
<line x1="315.00" y1="325.40" x2="315.00" y2="337.00" stroke="#333" stroke-width="0.6"/>
<line x1="313.40" y1="325.40" x2="316.60" y2="325.40" stroke="#333" stroke-width="0.6"/>
<line x1="313.40" y1="337.00" x2="316.60" y2="337.00" stroke="#333" stroke-width="0.6"/>
<rect x="324.60" y="303.10" width="15.00" height="119.20" fill="#fff" stroke="#9a9a9a" stroke-width="0.8"/>
<rect x="324.60" y="355.20" width="15.00" height="67.10" fill="#d3262b" stroke="none" stroke-width="1"/>
<line x1="332.20" y1="341.90" x2="332.20" y2="368.80" stroke="#333" stroke-width="0.6"/>
<line x1="330.60" y1="341.90" x2="333.80" y2="341.90" stroke="#333" stroke-width="0.6"/>
<line x1="330.60" y1="368.80" x2="333.80" y2="368.80" stroke="#333" stroke-width="0.6"/>
<rect x="341.40" y="303.10" width="15.60" height="119.20" fill="#fff" stroke="#9a9a9a" stroke-width="0.8"/>
<rect x="341.40" y="343.60" width="15.60" height="78.70" fill="#7cbf48" stroke="none" stroke-width="1"/>
<line x1="349.20" y1="330.30" x2="349.20" y2="356.60" stroke="#333" stroke-width="0.6"/>
<line x1="347.60" y1="330.30" x2="350.80" y2="330.30" stroke="#333" stroke-width="0.6"/>
<line x1="347.60" y1="356.60" x2="350.80" y2="356.60" stroke="#333" stroke-width="0.6"/>
<rect x="372.20" y="303.10" width="15.90" height="119.20" fill="#fff" stroke="#9a9a9a" stroke-width="0.8"/>
<rect x="372.20" y="337.80" width="15.90" height="84.50" fill="#111111" stroke="none" stroke-width="1"/>
<line x1="380.90" y1="331.70" x2="380.90" y2="337.80" stroke="#333" stroke-width="0.6"/>
<line x1="379.30" y1="331.70" x2="382.50" y2="331.70" stroke="#333" stroke-width="0.6"/>
<line x1="379.30" y1="337.80" x2="382.50" y2="337.80" stroke="#333" stroke-width="0.6"/>
<rect x="390.20" y="303.10" width="15.30" height="119.20" fill="#fff" stroke="#9a9a9a" stroke-width="0.8"/>
<rect x="390.20" y="363.80" width="15.30" height="58.50" fill="#d3262b" stroke="none" stroke-width="1"/>
<line x1="397.70" y1="350.80" x2="397.70" y2="376.90" stroke="#333" stroke-width="0.6"/>
<line x1="396.10" y1="350.80" x2="399.30" y2="350.80" stroke="#333" stroke-width="0.6"/>
<line x1="396.10" y1="376.90" x2="399.30" y2="376.90" stroke="#333" stroke-width="0.6"/>
<rect x="407.20" y="303.10" width="15.10" height="119.20" fill="#fff" stroke="#9a9a9a" stroke-width="0.8"/>
<rect x="407.20" y="373.70" width="15.10" height="48.60" fill="#7cbf48" stroke="none" stroke-width="1"/>
<line x1="414.80" y1="362.10" x2="414.80" y2="386.10" stroke="#333" stroke-width="0.6"/>
<line x1="413.20" y1="362.10" x2="416.40" y2="362.10" stroke="#333" stroke-width="0.6"/>
<line x1="413.20" y1="386.10" x2="416.40" y2="386.10" stroke="#333" stroke-width="0.6"/>
<rect x="438.10" y="303.10" width="15.60" height="119.20" fill="#fff" stroke="#9a9a9a" stroke-width="0.8"/>
<rect x="438.10" y="368.80" width="15.60" height="53.50" fill="#111111" stroke="none" stroke-width="1"/>
<line x1="446.50" y1="356.30" x2="446.50" y2="368.80" stroke="#333" stroke-width="0.6"/>
<line x1="444.90" y1="356.30" x2="448.10" y2="356.30" stroke="#333" stroke-width="0.6"/>
<line x1="444.90" y1="368.80" x2="448.10" y2="368.80" stroke="#333" stroke-width="0.6"/>
<rect x="455.50" y="303.10" width="15.50" height="119.20" fill="#fff" stroke="#9a9a9a" stroke-width="0.8"/>
<rect x="455.50" y="396.20" width="15.50" height="26.10" fill="#d3262b" stroke="none" stroke-width="1"/>
<line x1="463.30" y1="389.90" x2="463.30" y2="402.00" stroke="#333" stroke-width="0.6"/>
<line x1="461.70" y1="389.90" x2="464.90" y2="389.90" stroke="#333" stroke-width="0.6"/>
<line x1="461.70" y1="402.00" x2="464.90" y2="402.00" stroke="#333" stroke-width="0.6"/>
<rect x="472.50" y="303.10" width="15.60" height="119.20" fill="#fff" stroke="#9a9a9a" stroke-width="0.8"/>
<rect x="472.50" y="393.30" width="15.60" height="29.00" fill="#7cbf48" stroke="none" stroke-width="1"/>
<line x1="480.60" y1="383.80" x2="480.60" y2="402.60" stroke="#333" stroke-width="0.6"/>
<line x1="479.00" y1="383.80" x2="482.20" y2="383.80" stroke="#333" stroke-width="0.6"/>
<line x1="479.00" y1="402.60" x2="482.20" y2="402.60" stroke="#333" stroke-width="0.6"/>
<line x1="380.40" y1="298.50" x2="445.00" y2="298.50" stroke="#3c3c3c" stroke-width="1.15"/>
<polygon points="412.90,294.00 413.46,295.43 414.99,295.52 413.80,296.49 414.19,297.98 412.90,297.15 411.61,297.98 412.00,296.49 410.81,295.52 412.34,295.43" fill="#1a1a1a"/>
<line x1="398.80" y1="292.20" x2="463.50" y2="292.20" stroke="#3c3c3c" stroke-width="1.15"/>
<polygon points="430.60,287.80 431.16,289.23 432.69,289.32 431.50,290.29 431.89,291.78 430.60,290.95 429.31,291.78 429.70,290.29 428.51,289.32 430.04,289.23" fill="#1a1a1a"/>
<line x1="418.00" y1="286.90" x2="482.60" y2="286.90" stroke="#3c3c3c" stroke-width="1.15"/>
<polygon points="450.20,282.50 450.76,283.93 452.29,284.02 451.10,284.99 451.49,286.48 450.20,285.65 448.91,286.48 449.30,284.99 448.11,284.02 449.64,283.93" fill="#1a1a1a"/>
<line x1="381.00" y1="429.20" x2="398.80" y2="429.20" stroke="#3c3c3c" stroke-width="1.15"/>
<polygon points="389.60,424.60 390.16,426.03 391.69,426.12 390.50,427.09 390.89,428.58 389.60,427.75 388.31,428.58 388.70,427.09 387.51,426.12 389.04,426.03" fill="#1a1a1a"/>
<line x1="381.00" y1="435.00" x2="415.00" y2="435.00" stroke="#3c3c3c" stroke-width="1.15"/>
<polygon points="397.70,430.20 398.26,431.63 399.79,431.72 398.60,432.69 398.99,434.18 397.70,433.35 396.41,434.18 396.80,432.69 395.61,431.72 397.14,431.63" fill="#1a1a1a"/>
<line x1="446.20" y1="429.20" x2="463.00" y2="429.20" stroke="#3c3c3c" stroke-width="1.15"/>
<polygon points="454.20,424.60 454.76,426.03 456.29,426.12 455.10,427.09 455.49,428.58 454.20,427.75 452.91,428.58 453.30,427.09 452.11,426.12 453.64,426.03" fill="#1a1a1a"/>
<line x1="446.20" y1="435.00" x2="479.60" y2="435.00" stroke="#3c3c3c" stroke-width="1.15"/>
<polygon points="462.30,430.20 462.86,431.63 464.39,431.72 463.20,432.69 463.59,434.18 462.30,433.35 461.01,434.18 461.40,432.69 460.21,431.72 461.74,431.63" fill="#1a1a1a"/>
<text x="332.80" y="447.50" font-size="12.6" text-anchor="middle" fill="#000">P</text>
<text x="398.30" y="446.60" font-size="12.2" text-anchor="middle" fill="#000">C</text>
<text x="464.00" y="446.60" font-size="12.2" text-anchor="middle" fill="#000">D</text>
<text x="502.50" y="344.30" font-size="12.9" text-anchor="middle" fill="#000">DRX</text>
<text x="502.50" y="413.30" font-size="12.9" text-anchor="middle" fill="#000">SRX</text>
<rect x="323.80" y="454.90" width="8.80" height="8.60" fill="#222" stroke="none" stroke-width="1"/>
<text x="335.20" y="462.60" font-size="11.8" text-anchor="start" fill="#000">Wildtype</text>
<rect x="388.50" y="454.90" width="9.20" height="8.60" fill="#d3262b" stroke="none" stroke-width="1"/>
<text x="399.80" y="462.60" font-size="11.2" text-anchor="start" fill="#000">t/t</text>
<rect x="421.50" y="454.90" width="9.30" height="8.60" fill="#7cbf48" stroke="none" stroke-width="1"/>
<text x="432.00" y="462.60" font-size="11.6" text-anchor="start" fill="#000">ΔC0C1f</text>
</svg></body></html>
